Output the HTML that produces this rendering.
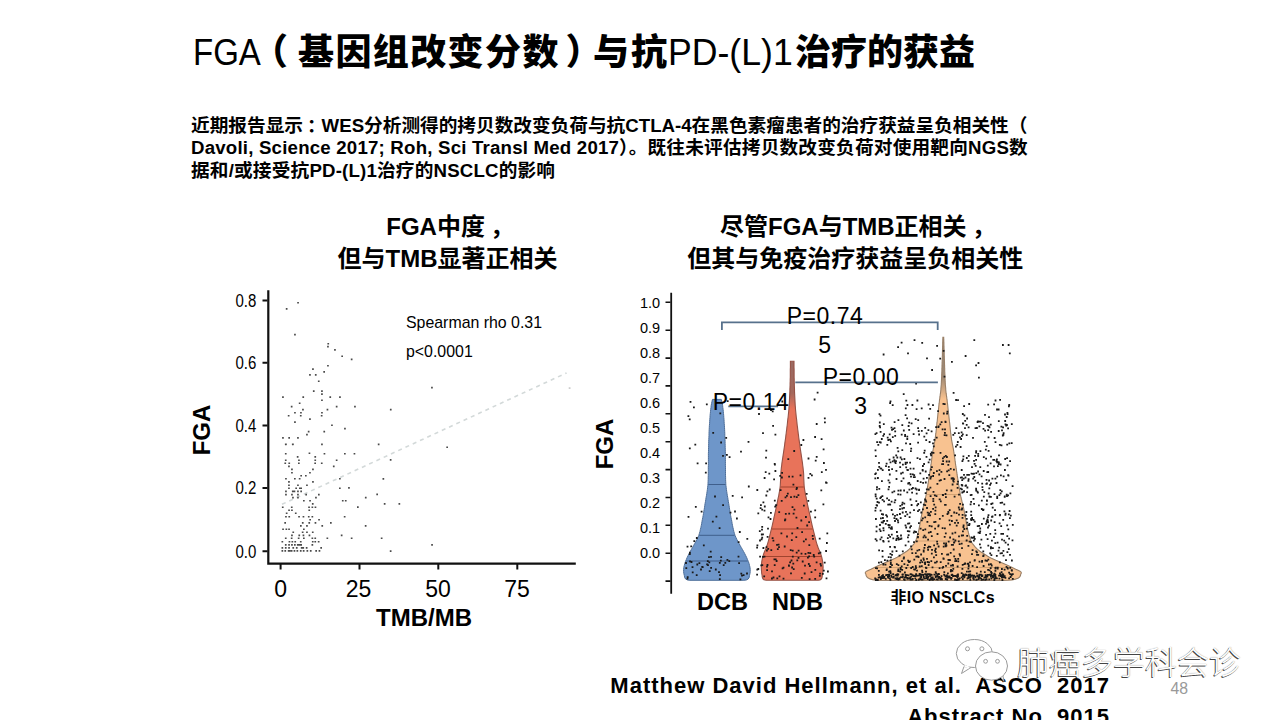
<!DOCTYPE html>
<html><head><meta charset="utf-8">
<style>
html,body{margin:0;padding:0;background:#fff;}
body{width:1280px;height:720px;position:relative;overflow:hidden;font-family:"Liberation Sans","Noto Sans CJK SC",sans-serif;color:#000;}
.a{position:absolute;white-space:nowrap;}
.t{top:29px;font-size:36px;line-height:48px;}
.lt{font-weight:300;}
.bd{font-weight:900;}
.p{left:191px;font-size:18.67px;line-height:22.5px;font-weight:bold;}
.h{font-size:24px;line-height:32px;font-weight:bold;text-align:center;}
.tick{font-size:15px;line-height:15px;}
.ts{transform:scaleY(1.2);transform-origin:50% 50%;}
.xt{font-size:23px;line-height:23px;width:60px;text-align:center;}
.axt{font-size:24px;font-weight:bold;line-height:24px;}
.pv{font-size:23px;line-height:29px;letter-spacing:0.5px;text-align:center;}
.wm{font-weight:300;font-size:32px;line-height:40px;color:#fff;text-shadow:-1px 1px 0 #444,0 0 1px #777;}
</style></head><body>
<svg width="1280" height="720" viewBox="0 0 1280 720" style="position:absolute;left:0;top:0">
<!-- scatter plot -->
<path d="M282 504.3L566.6 372.9" stroke="#d3d9d9" stroke-width="1.6" stroke-dasharray="4 4" fill="none"/>
<path d="M297.2 301.9h1.7v1.7h-1.7zM285.8 308.1h1.7v1.7h-1.7zM294.1 333.8h1.7v1.7h-1.7zM327.4 342.9h1.7v1.7h-1.7zM327.1 345.8h1.7v1.7h-1.7zM334.1 349.1h1.7v1.7h-1.7zM341.3 355.4h1.7v1.7h-1.7zM350.8 358.6h1.7v1.7h-1.7zM327.1 364.9h1.7v1.7h-1.7zM312.1 368.3h1.7v1.7h-1.7zM323.3 371.1h1.7v1.7h-1.7zM309.1 374.1h1.7v1.7h-1.7zM314.9 374.1h1.7v1.7h-1.7zM317.9 380.4h1.7v1.7h-1.7zM312.9 390.3h1.7v1.7h-1.7zM321.1 390.3h1.7v1.7h-1.7zM321.1 393.3h1.7v1.7h-1.7zM282.1 396.3h1.7v1.7h-1.7zM302.4 396.3h1.7v1.7h-1.7zM329.4 396.3h1.7v1.7h-1.7zM339.1 396.3h1.7v1.7h-1.7zM321.1 399.4h1.7v1.7h-1.7zM298.8 402.4h1.7v1.7h-1.7zM290.8 405.8h1.7v1.7h-1.7zM335.8 405.8h1.7v1.7h-1.7zM354.1 405.8h1.7v1.7h-1.7zM302.1 408.8h1.7v1.7h-1.7zM326.6 408.8h1.7v1.7h-1.7zM389.9 408.8h1.7v1.7h-1.7zM294.1 411.9h1.7v1.7h-1.7zM300.1 411.9h1.7v1.7h-1.7zM321.1 411.9h1.7v1.7h-1.7zM287.8 414.9h1.7v1.7h-1.7zM299.9 414.9h1.7v1.7h-1.7zM320.8 414.9h1.7v1.7h-1.7zM309.1 418.3h1.7v1.7h-1.7zM294.1 421.3h1.7v1.7h-1.7zM331.1 424.4h1.7v1.7h-1.7zM344.1 427.8h1.7v1.7h-1.7zM307.8 430.8h1.7v1.7h-1.7zM306.1 433.8h1.7v1.7h-1.7zM323.4 430.8h1.7v1.7h-1.7zM282.1 437.1h1.7v1.7h-1.7zM288.3 437.1h1.7v1.7h-1.7zM297.1 437.1h1.7v1.7h-1.7zM284.9 443.6h1.7v1.7h-1.7zM291.9 443.6h1.7v1.7h-1.7zM321.1 443.6h1.7v1.7h-1.7zM377.8 443.6h1.7v1.7h-1.7zM285.1 443.4h1.7v1.7h-1.7zM292.1 443.4h1.7v1.7h-1.7zM284.9 452.9h1.7v1.7h-1.7zM308.6 452.4h1.7v1.7h-1.7zM323.6 452.9h1.7v1.7h-1.7zM344 452.9h1.7v1.7h-1.7zM353.6 452.9h1.7v1.7h-1.7zM296.8 456h1.7v1.7h-1.7zM314.4 456h1.7v1.7h-1.7zM284.9 459.4h1.7v1.7h-1.7zM298.1 459.4h1.7v1.7h-1.7zM314.4 459.4h1.7v1.7h-1.7zM335.8 459.4h1.7v1.7h-1.7zM284.4 462.4h1.7v1.7h-1.7zM288.4 462.4h1.7v1.7h-1.7zM298 462.4h1.7v1.7h-1.7zM314.3 462.4h1.7v1.7h-1.7zM320.9 462.4h1.7v1.7h-1.7zM288.1 465.5h1.7v1.7h-1.7zM332.9 465.5h1.7v1.7h-1.7zM291.1 468.5h1.7v1.7h-1.7zM312.1 468.5h1.7v1.7h-1.7zM291.1 471.9h1.7v1.7h-1.7zM309.1 471.9h1.7v1.7h-1.7zM300.3 474.9h1.7v1.7h-1.7zM305 474.9h1.7v1.7h-1.7zM285.1 477.9h1.7v1.7h-1.7zM294 477.9h1.7v1.7h-1.7zM298.8 477.9h1.7v1.7h-1.7zM339 477.9h1.7v1.7h-1.7zM288.1 481h1.7v1.7h-1.7zM312.1 481h1.7v1.7h-1.7zM288.1 484.4h1.7v1.7h-1.7zM297.1 484.4h1.7v1.7h-1.7zM306.1 484.4h1.7v1.7h-1.7zM288.1 487.4h1.7v1.7h-1.7zM295.3 487.4h1.7v1.7h-1.7zM299 487.4h1.7v1.7h-1.7zM300.3 487.4h1.7v1.7h-1.7zM339 487.4h1.7v1.7h-1.7zM348.1 487h1.7v1.7h-1.7zM285.1 490.6h1.7v1.7h-1.7zM291.9 490.6h1.7v1.7h-1.7zM293.6 490.6h1.7v1.7h-1.7zM297.1 490.6h1.7v1.7h-1.7zM300.3 490.6h1.7v1.7h-1.7zM285.1 493.8h1.7v1.7h-1.7zM291.1 493.8h1.7v1.7h-1.7zM297.1 493.8h1.7v1.7h-1.7zM305.3 493.8h1.7v1.7h-1.7zM318 493.8h1.7v1.7h-1.7zM292.1 496.8h1.7v1.7h-1.7zM297.1 496.8h1.7v1.7h-1.7zM315.1 496.8h1.7v1.7h-1.7zM364.9 496.8h1.7v1.7h-1.7zM303 499.9h1.7v1.7h-1.7zM309.2 499.9h1.7v1.7h-1.7zM341.9 499.9h1.7v1.7h-1.7zM344.9 499.9h1.7v1.7h-1.7zM311.9 503.1h1.7v1.7h-1.7zM281.9 506.4h1.7v1.7h-1.7zM290.9 506.4h1.7v1.7h-1.7zM308.2 506.4h1.7v1.7h-1.7zM311.5 506.4h1.7v1.7h-1.7zM314.6 506.4h1.7v1.7h-1.7zM288.2 509.4h1.7v1.7h-1.7zM291.1 509.4h1.7v1.7h-1.7zM308.4 509.4h1.7v1.7h-1.7zM285.8 512.4h1.7v1.7h-1.7zM294.9 512.4h1.7v1.7h-1.7zM285.1 515.9h1.7v1.7h-1.7zM288.4 515.9h1.7v1.7h-1.7zM298.2 515.9h1.7v1.7h-1.7zM302.6 515.9h1.7v1.7h-1.7zM307.9 515.9h1.7v1.7h-1.7zM311.5 515.9h1.7v1.7h-1.7zM343.8 515.9h1.7v1.7h-1.7zM309.3 518.9h1.7v1.7h-1.7zM318.2 518.9h1.7v1.7h-1.7zM284.3 522h1.7v1.7h-1.7zM301.9 522h1.7v1.7h-1.7zM308.4 522h1.7v1.7h-1.7zM314.6 522h1.7v1.7h-1.7zM330 522h1.7v1.7h-1.7zM300 525.1h1.7v1.7h-1.7zM306.1 525.1h1.7v1.7h-1.7zM321.4 525.1h1.7v1.7h-1.7zM282.2 528.4h1.7v1.7h-1.7zM285.5 528.4h1.7v1.7h-1.7zM288.2 528.4h1.7v1.7h-1.7zM303 528.4h1.7v1.7h-1.7zM292.4 531.4h1.7v1.7h-1.7zM301.8 531.4h1.7v1.7h-1.7zM306.1 531.4h1.7v1.7h-1.7zM311.9 531.4h1.7v1.7h-1.7zM291.1 534.5h1.7v1.7h-1.7zM298.4 534.5h1.7v1.7h-1.7zM302.6 534.5h1.7v1.7h-1.7zM308.6 534.5h1.7v1.7h-1.7zM340.8 534.5h1.7v1.7h-1.7zM284.9 537.4h1.7v1.7h-1.7zM290.8 537.4h1.7v1.7h-1.7zM297.8 537.4h1.7v1.7h-1.7zM303 537.4h1.7v1.7h-1.7zM311.5 537.4h1.7v1.7h-1.7zM314.4 537.4h1.7v1.7h-1.7zM326.5 537.4h1.7v1.7h-1.7zM350.8 537.4h1.7v1.7h-1.7zM281.5 540.9h1.7v1.7h-1.7zM288.6 540.9h1.7v1.7h-1.7zM291.5 540.9h1.7v1.7h-1.7zM294.4 540.9h1.7v1.7h-1.7zM299.9 540.9h1.7v1.7h-1.7zM311.9 540.9h1.7v1.7h-1.7zM314.4 540.9h1.7v1.7h-1.7zM317.8 540.9h1.7v1.7h-1.7zM284.9 544.1h1.7v1.7h-1.7zM288.2 544.1h1.7v1.7h-1.7zM291.1 544.1h1.7v1.7h-1.7zM294 544.1h1.7v1.7h-1.7zM296.9 544.1h1.7v1.7h-1.7zM298.6 544.1h1.7v1.7h-1.7zM300.3 544.1h1.7v1.7h-1.7zM311.5 544.1h1.7v1.7h-1.7zM281.5 547h1.7v1.7h-1.7zM284.9 547h1.7v1.7h-1.7zM288.2 547h1.7v1.7h-1.7zM292.4 547h1.7v1.7h-1.7zM295.9 547h1.7v1.7h-1.7zM300.8 547h1.7v1.7h-1.7zM302.4 547h1.7v1.7h-1.7zM305.8 547h1.7v1.7h-1.7zM320.3 547h1.7v1.7h-1.7zM281.5 550.1h1.7v1.7h-1.7zM284.4 550.1h1.7v1.7h-1.7zM287.8 550.1h1.7v1.7h-1.7zM289 550.1h1.7v1.7h-1.7zM290.8 550.1h1.7v1.7h-1.7zM293.6 550.1h1.7v1.7h-1.7zM296.5 550.1h1.7v1.7h-1.7zM299.9 550.1h1.7v1.7h-1.7zM302.8 550.1h1.7v1.7h-1.7zM306.5 550.1h1.7v1.7h-1.7zM309.9 550.1h1.7v1.7h-1.7zM315.3 550.1h1.7v1.7h-1.7zM318.6 550.1h1.7v1.7h-1.7zM446.3 446.4h1.7v1.7h-1.7zM389.8 459.1h1.7v1.7h-1.7zM382.5 478h1.7v1.7h-1.7zM376.3 493.5h1.7v1.7h-1.7zM383.8 503.1h1.7v1.7h-1.7zM398.5 503.1h1.7v1.7h-1.7zM357 506.2h1.7v1.7h-1.7zM364.8 525.1h1.7v1.7h-1.7zM380.8 537.4h1.7v1.7h-1.7zM431.2 544h1.7v1.7h-1.7zM389.8 550.2h1.7v1.7h-1.7zM431.1 386.8h1.7v1.7h-1.7z" fill="#4a4a4a"/>
<rect x="568.7" y="387.2" width="1.8" height="1.8" fill="#ccc"/>
<path d="M268.3 290.3V563.6H575.8" stroke="#111" stroke-width="2.2" fill="none"/>
<path d="M262.5 300.4h5M262.5 362.7h5M262.5 425.4h5M262.5 488.1h5M262.5 551.3h5M280.6 564v5.5M359.5 564v5.5M438.3 564v5.5M517.3 564v5.5" stroke="#111" stroke-width="2" fill="none"/>
<defs>
<linearGradient id="gn" gradientUnits="userSpaceOnUse" x1="0" y1="361" x2="0" y2="425"><stop offset="0" stop-color="#9a6a62"/><stop offset="0.5" stop-color="#a4685c"/><stop offset="0.75" stop-color="#e8735a"/><stop offset="1" stop-color="#e8735a"/></linearGradient>
<linearGradient id="go" gradientUnits="userSpaceOnUse" x1="0" y1="337" x2="0" y2="410"><stop offset="0" stop-color="#8c8278"/><stop offset="0.55" stop-color="#a08a74"/><stop offset="0.85" stop-color="#f8c290"/><stop offset="1" stop-color="#f8c290"/></linearGradient>
</defs>
<!-- violin plot -->
<path d="M671.2 292.8V593.8" stroke="#111" stroke-width="1.8" fill="none"/>
<path d="M665.5 302.3h5M665.5 330.2h5M665.5 358.1h5M665.5 385.9h5M665.5 413.8h5M665.5 441.7h5M665.5 469.6h5M665.5 497.5h5M665.5 525.3h5M665.5 553.2h5M665.5 581.1h5" stroke="#111" stroke-width="1.6" fill="none"/>
<path d="M712.5 399.4L721.3 399.4L721.8 401.4L722.2 403.4L722.6 405.4L722.8 407.4L723.1 409.4L723.3 411.4L723.5 413.4L723.7 415.4L723.8 417.4L724 419.4L724.1 421.4L724.2 423.4L724.4 425.4L724.5 427.4L724.6 429.4L724.7 431.4L724.8 433.4L724.8 435.4L724.9 437.4L725 439.4L725.1 441.4L725.1 443.4L725.2 445.4L725.2 447.4L725.3 449.4L725.3 451.4L725.4 453.4L725.4 455.4L725.4 457.4L725.4 459.4L725.4 461.4L725.4 463.4L725.4 465.4L725.5 467.4L725.5 469.4L725.5 471.4L725.5 473.4L725.5 475.4L725.6 477.4L725.6 479.4L725.7 481.4L725.8 483.4L725.9 485.4L726.2 487.4L726.4 489.4L726.7 491.4L727 493.4L727.3 495.4L727.7 497.4L728 499.4L728.3 501.4L728.7 503.4L729 505.4L729.3 507.4L729.6 509.4L730 511.4L730.3 513.4L730.6 515.4L731 517.4L731.4 519.4L731.8 521.4L732.1 523.4L732.5 525.4L732.9 527.4L733.4 529.4L733.8 531.4L734.4 533.4L735 535.4L735.9 537.4L736.8 539.4L737.9 541.4L739 543.4L740.1 545.4L741.2 547.4L742.4 549.4L743.5 551.4L744.6 553.4L745.6 555.4L746.6 557.4L747.4 559.4L748.3 561.4L749 563.4L749.5 565.4L750 567.4L750.2 569.4L750.2 571.4L750 573.4L749.5 575.4Q749.5 580.3 743.9 580.3L689.9 580.3Q684.3 580.3 684.3 575.4L683.8 573.4L683.6 571.4L683.6 569.4L683.8 567.4L684.3 565.4L684.8 563.4L685.5 561.4L686.4 559.4L687.2 557.4L688.2 555.4L689.2 553.4L690.3 551.4L691.4 549.4L692.6 547.4L693.7 545.4L694.8 543.4L695.9 541.4L697 539.4L697.9 537.4L698.8 535.4L699.4 533.4L700 531.4L700.4 529.4L700.9 527.4L701.3 525.4L701.7 523.4L702 521.4L702.4 519.4L702.8 517.4L703.2 515.4L703.5 513.4L703.8 511.4L704.2 509.4L704.5 507.4L704.8 505.4L705.1 503.4L705.5 501.4L705.8 499.4L706.1 497.4L706.5 495.4L706.8 493.4L707.1 491.4L707.4 489.4L707.6 487.4L707.9 485.4L708 483.4L708.1 481.4L708.2 479.4L708.2 477.4L708.3 475.4L708.3 473.4L708.3 471.4L708.3 469.4L708.3 467.4L708.4 465.4L708.4 463.4L708.4 461.4L708.4 459.4L708.4 457.4L708.4 455.4L708.4 453.4L708.5 451.4L708.5 449.4L708.6 447.4L708.6 445.4L708.7 443.4L708.7 441.4L708.8 439.4L708.9 437.4L709 435.4L709 433.4L709.1 431.4L709.2 429.4L709.3 427.4L709.4 425.4L709.6 423.4L709.7 421.4L709.8 419.4L710 417.4L710.1 415.4L710.3 413.4L710.5 411.4L710.7 409.4L711 407.4L711.2 405.4L711.6 403.4L712 401.4L712.5 399.4Z" fill="#6e96c9" stroke="#4d6e99" stroke-width="1"/>
<path d="M708.4 484.5H725.4M699.2 535.3H734.5M686.2 561H747.6" stroke="#3f5f8c" stroke-width="1" fill="none"/>
<path d="M790.4 361.3L794 361.3L794 363.3L794 365.3L794 367.3L794.1 369.3L794.1 371.3L794.1 373.3L794.1 375.3L794.1 377.3L794.2 379.3L794.2 381.3L794.3 383.3L794.3 385.3L794.4 387.3L794.5 389.3L794.5 391.3L794.6 393.3L794.7 395.3L794.8 397.3L794.9 399.3L795 401.3L795.1 403.3L795.2 405.3L795.4 407.3L795.5 409.3L795.7 411.3L795.9 413.3L796.1 415.3L796.3 417.3L796.6 419.3L796.8 421.3L797 423.3L797.2 425.3L797.5 427.3L797.7 429.3L798 431.3L798.2 433.3L798.5 435.3L798.7 437.3L799 439.3L799.3 441.3L799.6 443.3L799.8 445.3L800.1 447.3L800.4 449.3L800.7 451.3L801 453.3L801.3 455.3L801.6 457.3L801.9 459.3L802.2 461.3L802.5 463.3L802.7 465.3L803 467.3L803.2 469.3L803.4 471.3L803.6 473.3L803.7 475.3L803.7 477.3L803.8 479.3L803.9 481.3L804 483.3L804.1 485.3L804.3 487.3L804.6 489.3L804.9 491.3L805.3 493.3L805.6 495.3L806.1 497.3L806.5 499.3L806.9 501.3L807.3 503.3L807.7 505.3L808.1 507.3L808.6 509.3L809 511.3L809.5 513.3L809.9 515.3L810.4 517.3L810.8 519.3L811.2 521.3L811.7 523.3L812.1 525.3L812.6 527.3L813.1 529.3L813.6 531.3L814.1 533.3L814.6 535.3L815.1 537.3L815.6 539.3L816.1 541.3L816.7 543.3L817.3 545.3L818 547.3L818.8 549.3L819.7 551.3L820.5 553.3L821.2 555.3L821.8 557.3L822.2 559.3L822.6 561.3L822.8 563.3L823 565.3L823.1 567.3L823 569.3L822.9 571.3L822.7 573.3L822.3 575.3Q822.3 580.3 818.2 580.3L766.2 580.3Q762.1 580.3 762.1 575.3L761.7 573.3L761.5 571.3L761.4 569.3L761.3 567.3L761.4 565.3L761.6 563.3L761.8 561.3L762.2 559.3L762.6 557.3L763.2 555.3L763.9 553.3L764.7 551.3L765.6 549.3L766.4 547.3L767.1 545.3L767.7 543.3L768.3 541.3L768.8 539.3L769.3 537.3L769.8 535.3L770.3 533.3L770.8 531.3L771.3 529.3L771.8 527.3L772.3 525.3L772.7 523.3L773.2 521.3L773.6 519.3L774 517.3L774.5 515.3L774.9 513.3L775.4 511.3L775.8 509.3L776.3 507.3L776.7 505.3L777.1 503.3L777.5 501.3L777.9 499.3L778.3 497.3L778.8 495.3L779.1 493.3L779.5 491.3L779.8 489.3L780.1 487.3L780.3 485.3L780.4 483.3L780.5 481.3L780.6 479.3L780.7 477.3L780.7 475.3L780.8 473.3L781 471.3L781.2 469.3L781.4 467.3L781.7 465.3L781.9 463.3L782.2 461.3L782.5 459.3L782.8 457.3L783.1 455.3L783.4 453.3L783.7 451.3L784 449.3L784.3 447.3L784.6 445.3L784.8 443.3L785.1 441.3L785.4 439.3L785.7 437.3L785.9 435.3L786.2 433.3L786.4 431.3L786.7 429.3L786.9 427.3L787.2 425.3L787.4 423.3L787.6 421.3L787.8 419.3L788.1 417.3L788.3 415.3L788.5 413.3L788.7 411.3L788.9 409.3L789 407.3L789.2 405.3L789.3 403.3L789.4 401.3L789.5 399.3L789.6 397.3L789.7 395.3L789.8 393.3L789.9 391.3L789.9 389.3L790 387.3L790.1 385.3L790.1 383.3L790.2 381.3L790.2 379.3L790.3 377.3L790.3 375.3L790.3 373.3L790.3 371.3L790.3 369.3L790.4 367.3L790.4 365.3L790.4 363.3L790.4 361.3Z" fill="url(#gn)" stroke="#955246" stroke-width="1.1"/>
<path d="M780.6 487H803.8M771.9 529H812.5M763.4 556.5H821" stroke="#a0442f" stroke-width="1" fill="none"/>
<path d="M942.9 337.2L943.7 337.2L943.7 338.2L943.8 339.2L943.8 340.2L943.8 341.2L943.9 342.2L943.9 343.2L943.9 344.2L943.9 345.2L944 346.2L944 347.2L944 348.2L944.1 349.2L944.1 350.2L944.1 351.2L944.2 352.2L944.2 353.2L944.2 354.2L944.2 355.2L944.3 356.2L944.3 357.2L944.3 358.2L944.4 359.2L944.4 360.2L944.4 361.2L944.5 362.2L944.5 363.2L944.5 364.2L944.6 365.2L944.6 366.2L944.6 367.2L944.7 368.2L944.7 369.2L944.7 370.2L944.7 371.2L944.8 372.2L944.8 373.2L944.9 374.2L944.9 375.2L944.9 376.2L945 377.2L945 378.2L945.1 379.2L945.1 380.2L945.2 381.2L945.2 382.2L945.3 383.2L945.3 384.2L945.4 385.2L945.5 386.2L945.6 387.2L945.7 388.2L945.7 389.2L945.8 390.2L945.9 391.2L946 392.2L946.1 393.2L946.3 394.2L946.4 395.2L946.5 396.2L946.7 397.2L946.8 398.2L946.9 399.2L947.1 400.2L947.2 401.2L947.3 402.2L947.4 403.2L947.6 404.2L947.7 405.2L947.8 406.2L947.9 407.2L948 408.2L948.1 409.2L948.2 410.2L948.3 411.2L948.4 412.2L948.5 413.2L948.7 414.2L948.8 415.2L948.9 416.2L949 417.2L949.1 418.2L949.2 419.2L949.3 420.2L949.4 421.2L949.5 422.2L949.7 423.2L949.8 424.2L949.9 425.2L950 426.2L950.1 427.2L950.2 428.2L950.3 429.2L950.4 430.2L950.5 431.2L950.6 432.2L950.7 433.2L950.9 434.2L951 435.2L951.1 436.2L951.2 437.2L951.4 438.2L951.5 439.2L951.6 440.2L951.8 441.2L952 442.2L952.2 443.2L952.4 444.2L952.6 445.2L952.8 446.2L953 447.2L953.2 448.2L953.4 449.2L953.5 450.2L953.7 451.2L953.8 452.2L954 453.2L954.1 454.2L954.3 455.2L954.4 456.2L954.6 457.2L954.7 458.2L954.9 459.2L955 460.2L955.1 461.2L955.3 462.2L955.4 463.2L955.5 464.2L955.7 465.2L955.8 466.2L956 467.2L956.1 468.2L956.3 469.2L956.4 470.2L956.6 471.2L956.7 472.2L956.9 473.2L957 474.2L957.2 475.2L957.3 476.2L957.5 477.2L957.7 478.2L957.8 479.2L958 480.2L958.1 481.2L958.3 482.2L958.4 483.2L958.6 484.2L958.8 485.2L958.9 486.2L959.1 487.2L959.3 488.2L959.4 489.2L959.6 490.2L959.8 491.2L960 492.2L960.1 493.2L960.3 494.2L960.5 495.2L960.7 496.2L961 497.2L961.2 498.2L961.4 499.2L961.7 500.2L961.9 501.2L962.2 502.2L962.4 503.2L962.7 504.2L962.9 505.2L963.1 506.2L963.4 507.2L963.6 508.2L963.8 509.2L964 510.2L964.2 511.2L964.4 512.2L964.6 513.2L964.8 514.2L965 515.2L965.2 516.2L965.4 517.2L965.5 518.2L965.7 519.2L965.9 520.2L966.1 521.2L966.2 522.2L966.4 523.2L966.6 524.2L966.8 525.2L967 526.2L967.2 527.2L967.4 528.2L967.6 529.2L967.8 530.2L968.1 531.2L968.3 532.2L968.6 533.2L968.8 534.2L969.1 535.2L969.4 536.2L969.7 537.2L970 538.2L970.3 539.2L970.7 540.2L971.1 541.2L971.6 542.2L972.2 543.2L972.9 544.2L973.7 545.2L974.5 546.2L975.3 547.2L976.3 548.2L977.3 549.2L978.6 550.2L979.9 551.2L981.4 552.2L983 553.2L984.6 554.2L986.2 555.2L987.7 556.2L989.4 557.2L991.4 558.2L993.6 559.2L995.8 560.2L998.2 561.2L1000.5 562.2L1002.9 563.2L1005.2 564.2L1007.4 565.2L1009.6 566.2L1011.7 567.2L1013.7 568.2L1015.7 569.2L1018 570.2L1020 571.2L1021.2 572.2L1021.3 573.2L1020.7 574.2Q1020.7 580.5 1003.3 580.5L883.3 580.5Q865.9 580.5 865.9 574.2L865.3 573.2L865.4 572.2L866.6 571.2L868.6 570.2L870.9 569.2L872.9 568.2L874.9 567.2L877 566.2L879.2 565.2L881.4 564.2L883.7 563.2L886.1 562.2L888.4 561.2L890.8 560.2L893 559.2L895.2 558.2L897.2 557.2L898.9 556.2L900.4 555.2L902 554.2L903.6 553.2L905.2 552.2L906.7 551.2L908 550.2L909.3 549.2L910.3 548.2L911.3 547.2L912.1 546.2L912.9 545.2L913.7 544.2L914.4 543.2L915 542.2L915.5 541.2L915.9 540.2L916.3 539.2L916.6 538.2L916.9 537.2L917.2 536.2L917.5 535.2L917.8 534.2L918 533.2L918.3 532.2L918.5 531.2L918.8 530.2L919 529.2L919.2 528.2L919.4 527.2L919.6 526.2L919.8 525.2L920 524.2L920.2 523.2L920.4 522.2L920.5 521.2L920.7 520.2L920.9 519.2L921.1 518.2L921.2 517.2L921.4 516.2L921.6 515.2L921.8 514.2L922 513.2L922.2 512.2L922.4 511.2L922.6 510.2L922.8 509.2L923 508.2L923.2 507.2L923.5 506.2L923.7 505.2L923.9 504.2L924.2 503.2L924.4 502.2L924.7 501.2L924.9 500.2L925.2 499.2L925.4 498.2L925.6 497.2L925.9 496.2L926.1 495.2L926.3 494.2L926.5 493.2L926.6 492.2L926.8 491.2L927 490.2L927.2 489.2L927.3 488.2L927.5 487.2L927.7 486.2L927.8 485.2L928 484.2L928.2 483.2L928.3 482.2L928.5 481.2L928.6 480.2L928.8 479.2L928.9 478.2L929.1 477.2L929.3 476.2L929.4 475.2L929.6 474.2L929.7 473.2L929.9 472.2L930 471.2L930.2 470.2L930.3 469.2L930.5 468.2L930.6 467.2L930.8 466.2L930.9 465.2L931.1 464.2L931.2 463.2L931.3 462.2L931.5 461.2L931.6 460.2L931.7 459.2L931.9 458.2L932 457.2L932.2 456.2L932.3 455.2L932.5 454.2L932.6 453.2L932.8 452.2L932.9 451.2L933.1 450.2L933.2 449.2L933.4 448.2L933.6 447.2L933.8 446.2L934 445.2L934.2 444.2L934.4 443.2L934.6 442.2L934.8 441.2L935 440.2L935.1 439.2L935.2 438.2L935.4 437.2L935.5 436.2L935.6 435.2L935.7 434.2L935.9 433.2L936 432.2L936.1 431.2L936.2 430.2L936.3 429.2L936.4 428.2L936.5 427.2L936.6 426.2L936.7 425.2L936.8 424.2L936.9 423.2L937.1 422.2L937.2 421.2L937.3 420.2L937.4 419.2L937.5 418.2L937.6 417.2L937.7 416.2L937.8 415.2L937.9 414.2L938.1 413.2L938.2 412.2L938.3 411.2L938.4 410.2L938.5 409.2L938.6 408.2L938.7 407.2L938.8 406.2L938.9 405.2L939 404.2L939.2 403.2L939.3 402.2L939.4 401.2L939.5 400.2L939.7 399.2L939.8 398.2L939.9 397.2L940.1 396.2L940.2 395.2L940.3 394.2L940.5 393.2L940.6 392.2L940.7 391.2L940.8 390.2L940.9 389.2L940.9 388.2L941 387.2L941.1 386.2L941.2 385.2L941.3 384.2L941.3 383.2L941.4 382.2L941.4 381.2L941.5 380.2L941.5 379.2L941.6 378.2L941.6 377.2L941.7 376.2L941.7 375.2L941.7 374.2L941.8 373.2L941.8 372.2L941.9 371.2L941.9 370.2L941.9 369.2L941.9 368.2L942 367.2L942 366.2L942 365.2L942.1 364.2L942.1 363.2L942.1 362.2L942.2 361.2L942.2 360.2L942.2 359.2L942.3 358.2L942.3 357.2L942.3 356.2L942.4 355.2L942.4 354.2L942.4 353.2L942.4 352.2L942.5 351.2L942.5 350.2L942.5 349.2L942.6 348.2L942.6 347.2L942.6 346.2L942.7 345.2L942.7 344.2L942.7 343.2L942.7 342.2L942.8 341.2L942.8 340.2L942.8 339.2L942.9 338.2L942.9 337.2Z" fill="url(#go)" stroke="#9a8068" stroke-width="1.1"/>
<path d="M926.7 494.5H959.9M916.1 541H970.5M874.9 567.5H1011.7" stroke="#c99a6c" stroke-width="0.8" fill="none"/>
<path d="M705.9 403.5h1.8v1.8h-1.8zM726.8 400.2h1.8v1.8h-1.8zM719.4 412.5h1.8v1.8h-1.8zM688.8 418.4h1.8v1.8h-1.8zM687.5 415.3h1.8v1.8h-1.8zM689.6 400.9h1.8v1.8h-1.8zM712.3 431.9h1.8v1.8h-1.8zM693 406.5h1.8v1.8h-1.8zM725.3 436.9h1.8v1.8h-1.8zM722.1 455h1.8v1.8h-1.8zM747.6 441h1.8v1.8h-1.8zM740.1 450.7h1.8v1.8h-1.8zM694.4 443.8h1.8v1.8h-1.8zM704.9 471.8h1.8v1.8h-1.8zM696.7 462.4h1.8v1.8h-1.8zM726 454h1.8v1.8h-1.8zM720.2 441.6h1.8v1.8h-1.8zM688.9 447.4h1.8v1.8h-1.8zM728.7 456.2h1.8v1.8h-1.8zM705.2 462.5h1.8v1.8h-1.8zM714.1 495.6h1.8v1.8h-1.8zM736 517.6h1.8v1.8h-1.8zM700.7 510.7h1.8v1.8h-1.8zM718.7 527.3h1.8v1.8h-1.8zM731.8 495h1.8v1.8h-1.8zM747.9 485.6h1.8v1.8h-1.8zM711.9 520.8h1.8v1.8h-1.8zM694.9 506h1.8v1.8h-1.8zM687.6 515.9h1.8v1.8h-1.8zM734.1 510.6h1.8v1.8h-1.8zM741.2 496.4h1.8v1.8h-1.8zM729.6 511.8h1.8v1.8h-1.8zM722.2 504.2h1.8v1.8h-1.8zM738.9 531.1h1.8v1.8h-1.8zM715.5 515.7h1.8v1.8h-1.8zM689 551.7h1.8v1.8h-1.8zM726.5 559h1.8v1.8h-1.8zM737.7 541.2h1.8v1.8h-1.8zM709.8 550.8h1.8v1.8h-1.8zM686.6 545.7h1.8v1.8h-1.8zM695.9 537.1h1.8v1.8h-1.8zM688.9 553.3h1.8v1.8h-1.8zM693.4 540.3h1.8v1.8h-1.8zM710.1 555.9h1.8v1.8h-1.8zM690.3 545.4h1.8v1.8h-1.8zM720.3 556.2h1.8v1.8h-1.8zM737.6 555.7h1.8v1.8h-1.8zM702.9 544.5h1.8v1.8h-1.8zM708.1 556.2h1.8v1.8h-1.8zM746.4 537.9h1.8v1.8h-1.8zM696.4 563.6h1.8v1.8h-1.8zM700.1 568.6h1.8v1.8h-1.8zM722.8 564.2h1.8v1.8h-1.8zM685.4 567.3h1.8v1.8h-1.8zM708.8 570.2h1.8v1.8h-1.8zM746.1 572.6h1.8v1.8h-1.8zM718.1 571.2h1.8v1.8h-1.8zM728.4 560.2h1.8v1.8h-1.8zM742.7 574.3h1.8v1.8h-1.8zM741.1 574.7h1.8v1.8h-1.8zM710.2 566.9h1.8v1.8h-1.8zM691.8 571.5h1.8v1.8h-1.8zM689.1 560.4h1.8v1.8h-1.8zM698.5 562.3h1.8v1.8h-1.8zM706.9 560.2h1.8v1.8h-1.8zM685.1 562.1h1.8v1.8h-1.8zM691.6 566.2h1.8v1.8h-1.8zM686.8 576.2h1.8v1.8h-1.8zM724.4 562h1.8v1.8h-1.8zM701.3 565.9h1.8v1.8h-1.8zM708.4 561.5h1.8v1.8h-1.8zM739.5 578.5h1.8v1.8h-1.8zM714.9 568.6h1.8v1.8h-1.8zM690.6 561.1h1.8v1.8h-1.8zM707.1 564.3h1.8v1.8h-1.8zM738.2 562.3h1.8v1.8h-1.8zM686.6 577.7h1.8v1.8h-1.8zM718.9 562h1.8v1.8h-1.8zM719.9 559.7h1.8v1.8h-1.8zM718.9 578.2h1.8v1.8h-1.8zM740.4 572.7h1.8v1.8h-1.8zM701.8 566.3h1.8v1.8h-1.8zM695.8 574.2h1.8v1.8h-1.8zM719.2 574.3h1.8v1.8h-1.8zM706.2 563.5h1.8v1.8h-1.8zM813.7 398.6h1.8v1.8h-1.8zM816.7 391.8h1.8v1.8h-1.8zM814.2 436.1h1.8v1.8h-1.8zM772.2 425h1.8v1.8h-1.8zM781.4 400.6h1.8v1.8h-1.8zM758.1 413.1h1.8v1.8h-1.8zM774.5 433.8h1.8v1.8h-1.8zM824 421.5h1.8v1.8h-1.8zM822.7 448.5h1.8v1.8h-1.8zM823.9 417.4h1.8v1.8h-1.8zM771.8 410.5h1.8v1.8h-1.8zM770.1 409.3h1.8v1.8h-1.8zM800.4 444.1h1.8v1.8h-1.8zM815.8 423.1h1.8v1.8h-1.8zM802.5 439.1h1.8v1.8h-1.8zM762.1 432.2h1.8v1.8h-1.8zM820.7 438.2h1.8v1.8h-1.8zM809.4 473h1.8v1.8h-1.8zM768.8 488.6h1.8v1.8h-1.8zM779.7 489.2h1.8v1.8h-1.8zM825.1 468.9h1.8v1.8h-1.8zM784.6 496.5h1.8v1.8h-1.8zM807.6 457.6h1.8v1.8h-1.8zM765.1 456.7h1.8v1.8h-1.8zM820.4 489.5h1.8v1.8h-1.8zM766.5 490.5h1.8v1.8h-1.8zM825.7 482h1.8v1.8h-1.8zM781 476.6h1.8v1.8h-1.8zM765.4 449.8h1.8v1.8h-1.8zM825.1 481.6h1.8v1.8h-1.8zM793.5 495.8h1.8v1.8h-1.8zM786.9 492.7h1.8v1.8h-1.8zM814.8 459.7h1.8v1.8h-1.8zM774 463.8h1.8v1.8h-1.8zM773.2 478.4h1.8v1.8h-1.8zM774.5 470.1h1.8v1.8h-1.8zM765.4 494.6h1.8v1.8h-1.8zM781.2 472h1.8v1.8h-1.8zM797.5 494.3h1.8v1.8h-1.8zM786 495h1.8v1.8h-1.8zM791.7 475.7h1.8v1.8h-1.8zM793.3 450.1h1.8v1.8h-1.8zM787.4 458.3h1.8v1.8h-1.8zM756.4 489.1h1.8v1.8h-1.8zM768.4 472.8h1.8v1.8h-1.8zM807.6 476.9h1.8v1.8h-1.8zM779.3 475h1.8v1.8h-1.8zM795.6 488.3h1.8v1.8h-1.8zM763.7 477.1h1.8v1.8h-1.8zM773.8 463h1.8v1.8h-1.8zM811 474.5h1.8v1.8h-1.8zM796 487.1h1.8v1.8h-1.8zM820.9 471.3h1.8v1.8h-1.8zM799.6 474.4h1.8v1.8h-1.8zM792.5 483.8h1.8v1.8h-1.8zM788.2 475.8h1.8v1.8h-1.8zM790.1 496.2h1.8v1.8h-1.8zM805.8 493h1.8v1.8h-1.8zM823 462.1h1.8v1.8h-1.8zM795.9 496.3h1.8v1.8h-1.8zM815.8 456h1.8v1.8h-1.8zM764.8 471.2h1.8v1.8h-1.8zM761.3 508.8h1.8v1.8h-1.8zM761.3 525.9h1.8v1.8h-1.8zM811.8 535h1.8v1.8h-1.8zM767.1 527.8h1.8v1.8h-1.8zM803 504.8h1.8v1.8h-1.8zM818.8 537.8h1.8v1.8h-1.8zM771.7 537.2h1.8v1.8h-1.8zM784.4 518.6h1.8v1.8h-1.8zM826.4 532.4h1.8v1.8h-1.8zM767.6 516.4h1.8v1.8h-1.8zM792.7 512.7h1.8v1.8h-1.8zM770 511.9h1.8v1.8h-1.8zM807.4 499.9h1.8v1.8h-1.8zM795.5 516.7h1.8v1.8h-1.8zM757.4 512.4h1.8v1.8h-1.8zM800.4 519.6h1.8v1.8h-1.8zM760.7 538.5h1.8v1.8h-1.8zM812.1 538h1.8v1.8h-1.8zM763.6 509.7h1.8v1.8h-1.8zM758.9 530.3h1.8v1.8h-1.8zM775.3 504.3h1.8v1.8h-1.8zM786.1 535.6h1.8v1.8h-1.8zM814.3 509.5h1.8v1.8h-1.8zM766.7 535.9h1.8v1.8h-1.8zM796.6 527.1h1.8v1.8h-1.8zM762.5 501.4h1.8v1.8h-1.8zM805 516.1h1.8v1.8h-1.8zM761.3 536.7h1.8v1.8h-1.8zM801.2 531.2h1.8v1.8h-1.8zM762.1 533.4h1.8v1.8h-1.8zM760.9 533.6h1.8v1.8h-1.8zM788.3 512.7h1.8v1.8h-1.8zM795.4 536.2h1.8v1.8h-1.8zM775.1 504.3h1.8v1.8h-1.8zM793.5 508.7h1.8v1.8h-1.8zM763.9 505.6h1.8v1.8h-1.8zM759.7 507.2h1.8v1.8h-1.8zM778.3 511.3h1.8v1.8h-1.8zM810 510.7h1.8v1.8h-1.8zM791.6 506.2h1.8v1.8h-1.8zM780.8 499.9h1.8v1.8h-1.8zM773.9 499.7h1.8v1.8h-1.8zM808.2 521.2h1.8v1.8h-1.8zM769.6 518.1h1.8v1.8h-1.8zM822.5 503.4h1.8v1.8h-1.8zM814.3 516.4h1.8v1.8h-1.8zM791.3 532.5h1.8v1.8h-1.8zM784 519.4h1.8v1.8h-1.8zM805 538.4h1.8v1.8h-1.8zM780.5 532.4h1.8v1.8h-1.8zM806.3 524.6h1.8v1.8h-1.8zM784.9 513h1.8v1.8h-1.8zM760 504.3h1.8v1.8h-1.8zM761.1 528.8h1.8v1.8h-1.8zM774.3 505.7h1.8v1.8h-1.8zM762.1 556h1.8v1.8h-1.8zM817.9 552.5h1.8v1.8h-1.8zM776.1 544h1.8v1.8h-1.8zM776.9 548.3h1.8v1.8h-1.8zM767.3 548h1.8v1.8h-1.8zM774.8 558.4h1.8v1.8h-1.8zM825.2 550.1h1.8v1.8h-1.8zM773.5 558.4h1.8v1.8h-1.8zM778.1 546.3h1.8v1.8h-1.8zM756.2 546.8h1.8v1.8h-1.8zM789.8 549.2h1.8v1.8h-1.8zM770.4 549.2h1.8v1.8h-1.8zM756.5 544.4h1.8v1.8h-1.8zM762.5 547.1h1.8v1.8h-1.8zM759.1 539.6h1.8v1.8h-1.8zM777.7 543.8h1.8v1.8h-1.8zM797.7 549.7h1.8v1.8h-1.8zM809.4 552.3h1.8v1.8h-1.8zM807 556.7h1.8v1.8h-1.8zM783.8 545.6h1.8v1.8h-1.8zM826 542.1h1.8v1.8h-1.8zM807.5 552h1.8v1.8h-1.8zM759.2 555.8h1.8v1.8h-1.8zM819.5 551.7h1.8v1.8h-1.8zM808.2 555.4h1.8v1.8h-1.8zM766 549.6h1.8v1.8h-1.8zM791.9 555.8h1.8v1.8h-1.8zM813.3 555.7h1.8v1.8h-1.8zM797.6 557h1.8v1.8h-1.8zM804.6 553h1.8v1.8h-1.8zM772.5 539.7h1.8v1.8h-1.8zM765.6 546.3h1.8v1.8h-1.8zM763.6 555.8h1.8v1.8h-1.8zM795.8 551.7h1.8v1.8h-1.8zM800.6 552.7h1.8v1.8h-1.8zM790.9 539.2h1.8v1.8h-1.8zM812.8 554.1h1.8v1.8h-1.8zM791.8 549.8h1.8v1.8h-1.8zM802.9 540.4h1.8v1.8h-1.8zM808.4 544.2h1.8v1.8h-1.8zM761.4 564.3h1.8v1.8h-1.8zM807.9 563.1h1.8v1.8h-1.8zM808.7 578.2h1.8v1.8h-1.8zM791.2 566.6h1.8v1.8h-1.8zM790.1 572.5h1.8v1.8h-1.8zM810.6 571.2h1.8v1.8h-1.8zM801.8 560.6h1.8v1.8h-1.8zM766.6 564.1h1.8v1.8h-1.8zM808.9 565.1h1.8v1.8h-1.8zM796.4 559.4h1.8v1.8h-1.8zM760.4 564.4h1.8v1.8h-1.8zM803.8 572.6h1.8v1.8h-1.8zM804.1 564.8h1.8v1.8h-1.8zM792.8 568.2h1.8v1.8h-1.8zM789.2 561.4h1.8v1.8h-1.8zM819.6 563h1.8v1.8h-1.8zM825.6 577.4h1.8v1.8h-1.8zM757.4 568.1h1.8v1.8h-1.8zM814.3 578h1.8v1.8h-1.8zM788 564.4h1.8v1.8h-1.8zM771 577.6h1.8v1.8h-1.8zM771.1 570.5h1.8v1.8h-1.8zM766.2 569.3h1.8v1.8h-1.8zM823.8 561.7h1.8v1.8h-1.8zM814.4 569h1.8v1.8h-1.8zM819.1 572.8h1.8v1.8h-1.8zM772.6 576.6h1.8v1.8h-1.8zM790.6 559.6h1.8v1.8h-1.8zM756.4 568.7h1.8v1.8h-1.8zM788.1 565h1.8v1.8h-1.8zM766.1 565.8h1.8v1.8h-1.8zM778.6 575.5h1.8v1.8h-1.8zM756.2 573.8h1.8v1.8h-1.8zM815.7 561.5h1.8v1.8h-1.8zM821.9 573h1.8v1.8h-1.8zM820.1 564.8h1.8v1.8h-1.8zM782.6 566.8h1.8v1.8h-1.8zM827 570.6h1.8v1.8h-1.8zM781.7 567.5h1.8v1.8h-1.8zM775.7 560.1h1.8v1.8h-1.8zM763.3 575.4h1.8v1.8h-1.8zM776.4 577.4h1.8v1.8h-1.8zM773.8 564.3h1.8v1.8h-1.8zM792.4 562.8h1.8v1.8h-1.8zM782.6 577.8h1.8v1.8h-1.8zM818.9 575h1.8v1.8h-1.8zM800.9 576.9h1.8v1.8h-1.8zM822.9 569.8h1.8v1.8h-1.8zM973.4 339.2h1.8v1.8h-1.8zM975.2 364.5h1.8v1.8h-1.8zM978 376.7h1.8v1.8h-1.8zM913.6 339.2h1.8v1.8h-1.8zM1002 344.1h1.8v1.8h-1.8zM939.3 357.8h1.8v1.8h-1.8zM915.2 382.7h1.8v1.8h-1.8zM1008.9 352.5h1.8v1.8h-1.8zM964.7 355.1h1.8v1.8h-1.8zM951 361h1.8v1.8h-1.8zM897.2 346.3h1.8v1.8h-1.8zM902.8 393.2h1.8v1.8h-1.8zM942.7 350h1.8v1.8h-1.8zM999.2 398.9h1.8v1.8h-1.8zM936.2 344.9h1.8v1.8h-1.8zM900.7 341.8h1.8v1.8h-1.8zM921.3 341.9h1.8v1.8h-1.8zM907.1 352.4h1.8v1.8h-1.8zM952.7 392h1.8v1.8h-1.8zM977.6 362.1h1.8v1.8h-1.8zM931.2 369.1h1.8v1.8h-1.8zM926.1 357.4h1.8v1.8h-1.8zM882.7 353.6h1.8v1.8h-1.8zM1007.7 344.1h1.8v1.8h-1.8zM943.6 375.8h1.8v1.8h-1.8zM993.2 403.4h1.8v1.8h-1.8zM911.5 404.1h1.8v1.8h-1.8zM929.3 408h1.8v1.8h-1.8zM1005.8 416.1h1.8v1.8h-1.8zM994.6 399.6h1.8v1.8h-1.8zM878.6 413.3h1.8v1.8h-1.8zM997.7 408.6h1.8v1.8h-1.8zM955.2 399.1h1.8v1.8h-1.8zM928.2 417.7h1.8v1.8h-1.8zM988.1 416.2h1.8v1.8h-1.8zM1008.3 404.1h1.8v1.8h-1.8zM889.2 402.2h1.8v1.8h-1.8zM946.2 412.8h1.8v1.8h-1.8zM1004.1 413.6h1.8v1.8h-1.8zM963.5 414.4h1.8v1.8h-1.8zM937.2 410.2h1.8v1.8h-1.8zM879.6 414.8h1.8v1.8h-1.8zM906.2 417.5h1.8v1.8h-1.8zM963.2 405.2h1.8v1.8h-1.8zM891.8 404.2h1.8v1.8h-1.8zM961.9 413.1h1.8v1.8h-1.8zM889.6 400.5h1.8v1.8h-1.8zM946.5 410.8h1.8v1.8h-1.8zM927.7 403.6h1.8v1.8h-1.8zM957.1 399.3h1.8v1.8h-1.8zM915.7 408.3h1.8v1.8h-1.8zM1006.5 412h1.8v1.8h-1.8zM996.1 408.6h1.8v1.8h-1.8zM906.5 404.1h1.8v1.8h-1.8zM1006.7 413.2h1.8v1.8h-1.8zM916.5 399.6h1.8v1.8h-1.8zM942.9 412.6h1.8v1.8h-1.8zM932.1 404.3h1.8v1.8h-1.8zM966.2 417.6h1.8v1.8h-1.8zM905.4 399.8h1.8v1.8h-1.8zM920.8 407.5h1.8v1.8h-1.8zM968.3 403.1h1.8v1.8h-1.8zM984.1 413.9h1.8v1.8h-1.8zM943.8 403.2h1.8v1.8h-1.8zM1008 405.4h1.8v1.8h-1.8zM987.3 403.7h1.8v1.8h-1.8zM904.7 414.3h1.8v1.8h-1.8zM914.8 418.2h1.8v1.8h-1.8zM942.5 402.9h1.8v1.8h-1.8zM904.9 407.5h1.8v1.8h-1.8zM965.9 457.1h1.8v1.8h-1.8zM894.3 434.9h1.8v1.8h-1.8zM903.5 458.1h1.8v1.8h-1.8zM893.7 421.2h1.8v1.8h-1.8zM882.4 434.9h1.8v1.8h-1.8zM998.1 454.5h1.8v1.8h-1.8zM975.2 459h1.8v1.8h-1.8zM1002.7 432.3h1.8v1.8h-1.8zM899.7 456.6h1.8v1.8h-1.8zM977.1 420.4h1.8v1.8h-1.8zM965.8 434.3h1.8v1.8h-1.8zM925.7 432.4h1.8v1.8h-1.8zM897.5 419.2h1.8v1.8h-1.8zM912.7 433.2h1.8v1.8h-1.8zM1006 424.1h1.8v1.8h-1.8zM1007.2 427.4h1.8v1.8h-1.8zM923.3 452h1.8v1.8h-1.8zM987.6 436.4h1.8v1.8h-1.8zM880.9 438.1h1.8v1.8h-1.8zM925.6 455.9h1.8v1.8h-1.8zM900.8 433.7h1.8v1.8h-1.8zM997.9 420.3h1.8v1.8h-1.8zM930.8 451.6h1.8v1.8h-1.8zM979.9 420.8h1.8v1.8h-1.8zM878.9 421.6h1.8v1.8h-1.8zM1001.1 429.4h1.8v1.8h-1.8zM977.3 455.1h1.8v1.8h-1.8zM920.9 430h1.8v1.8h-1.8zM1006.3 443.8h1.8v1.8h-1.8zM910.3 447.8h1.8v1.8h-1.8zM917.8 430.2h1.8v1.8h-1.8zM874.6 449.4h1.8v1.8h-1.8zM1000.6 444.5h1.8v1.8h-1.8zM1004.3 420.1h1.8v1.8h-1.8zM906.4 438.1h1.8v1.8h-1.8zM1006.2 457.3h1.8v1.8h-1.8zM927.5 429.2h1.8v1.8h-1.8zM933.5 438.9h1.8v1.8h-1.8zM1002.2 426.4h1.8v1.8h-1.8zM984.9 448.7h1.8v1.8h-1.8zM987.7 450h1.8v1.8h-1.8zM957.9 432.2h1.8v1.8h-1.8zM918.2 433.6h1.8v1.8h-1.8zM982.1 422.3h1.8v1.8h-1.8zM901.4 449.2h1.8v1.8h-1.8zM908.3 421.7h1.8v1.8h-1.8zM878.8 441.2h1.8v1.8h-1.8zM919.1 458.3h1.8v1.8h-1.8zM996 458.6h1.8v1.8h-1.8zM910.7 422.5h1.8v1.8h-1.8zM887.4 439.1h1.8v1.8h-1.8zM972.1 437h1.8v1.8h-1.8zM906.4 435.8h1.8v1.8h-1.8zM959.7 446.1h1.8v1.8h-1.8zM977.3 453h1.8v1.8h-1.8zM965.8 424h1.8v1.8h-1.8zM990.2 430.9h1.8v1.8h-1.8zM952.4 434h1.8v1.8h-1.8zM976 427.1h1.8v1.8h-1.8zM908.3 428.9h1.8v1.8h-1.8zM895.3 454.5h1.8v1.8h-1.8zM953.9 432.2h1.8v1.8h-1.8zM928.8 458.8h1.8v1.8h-1.8zM944.1 428.4h1.8v1.8h-1.8zM985.7 445.3h1.8v1.8h-1.8zM1010.9 423.2h1.8v1.8h-1.8zM939.6 451.9h1.8v1.8h-1.8zM990.1 455.7h1.8v1.8h-1.8zM879.7 430.9h1.8v1.8h-1.8zM890.6 426.7h1.8v1.8h-1.8zM1008.4 442.5h1.8v1.8h-1.8zM1002.5 434h1.8v1.8h-1.8zM993.7 437.1h1.8v1.8h-1.8zM910 450.2h1.8v1.8h-1.8zM1004.6 423.4h1.8v1.8h-1.8zM956.4 443.9h1.8v1.8h-1.8zM904.2 433.9h1.8v1.8h-1.8zM893.6 427.3h1.8v1.8h-1.8zM909.3 443.1h1.8v1.8h-1.8zM964.1 427.3h1.8v1.8h-1.8zM875.7 432.2h1.8v1.8h-1.8zM967.7 426.5h1.8v1.8h-1.8zM917.2 427.3h1.8v1.8h-1.8zM983.9 441h1.8v1.8h-1.8zM882.9 423.2h1.8v1.8h-1.8zM928.7 441.1h1.8v1.8h-1.8zM962.3 422.8h1.8v1.8h-1.8zM896.7 446.9h1.8v1.8h-1.8zM930.7 430.5h1.8v1.8h-1.8zM916.6 457.3h1.8v1.8h-1.8zM917.2 441.8h1.8v1.8h-1.8zM923.4 435.8h1.8v1.8h-1.8zM993.4 459h1.8v1.8h-1.8zM924.3 427h1.8v1.8h-1.8zM974.6 427.3h1.8v1.8h-1.8zM874.9 455.2h1.8v1.8h-1.8zM932.6 451.9h1.8v1.8h-1.8zM930.2 454.4h1.8v1.8h-1.8zM937.7 425.6h1.8v1.8h-1.8zM876.2 441.2h1.8v1.8h-1.8zM962.5 455.5h1.8v1.8h-1.8zM886.4 444h1.8v1.8h-1.8zM925.3 439.3h1.8v1.8h-1.8zM894.3 430.5h1.8v1.8h-1.8zM946 456.1h1.8v1.8h-1.8zM889.1 438.7h1.8v1.8h-1.8zM985.2 457.8h1.8v1.8h-1.8zM901.4 424.2h1.8v1.8h-1.8zM1004.3 458.1h1.8v1.8h-1.8zM940.7 421.3h1.8v1.8h-1.8zM1001.9 434.6h1.8v1.8h-1.8zM998.9 443.9h1.8v1.8h-1.8zM987.9 425.5h1.8v1.8h-1.8zM982.6 428h1.8v1.8h-1.8zM929.9 453h1.8v1.8h-1.8zM988.6 426.4h1.8v1.8h-1.8zM904.2 435.1h1.8v1.8h-1.8zM945.6 434.5h1.8v1.8h-1.8zM891.1 429h1.8v1.8h-1.8zM974.2 455h1.8v1.8h-1.8zM879.8 441.6h1.8v1.8h-1.8zM978.7 420.7h1.8v1.8h-1.8zM989.8 423.8h1.8v1.8h-1.8zM956.9 441.1h1.8v1.8h-1.8zM960.7 431.4h1.8v1.8h-1.8zM932.1 442.4h1.8v1.8h-1.8zM932.9 445.5h1.8v1.8h-1.8zM935.8 436.7h1.8v1.8h-1.8zM877.4 443.9h1.8v1.8h-1.8zM941.7 428.5h1.8v1.8h-1.8zM979.5 450.3h1.8v1.8h-1.8zM937.4 426.3h1.8v1.8h-1.8zM939.4 423.4h1.8v1.8h-1.8zM891.9 436.3h1.8v1.8h-1.8zM886.8 436.8h1.8v1.8h-1.8zM944.5 420.8h1.8v1.8h-1.8zM962 422.4h1.8v1.8h-1.8zM975.3 450.2h1.8v1.8h-1.8zM944.7 421.3h1.8v1.8h-1.8zM943.7 434.2h1.8v1.8h-1.8zM1005.3 424.6h1.8v1.8h-1.8zM992.4 459h1.8v1.8h-1.8zM975.2 451.7h1.8v1.8h-1.8zM900.9 458.4h1.8v1.8h-1.8zM942 457.4h1.8v1.8h-1.8zM1000.5 425.7h1.8v1.8h-1.8zM982.9 456.3h1.8v1.8h-1.8zM883.2 433.2h1.8v1.8h-1.8zM978.5 425.5h1.8v1.8h-1.8zM997.8 430.1h1.8v1.8h-1.8zM986.7 424.9h1.8v1.8h-1.8zM943.4 455.9h1.8v1.8h-1.8zM902.9 429.6h1.8v1.8h-1.8zM944 431.9h1.8v1.8h-1.8zM879.2 426.4h1.8v1.8h-1.8zM896.4 456.6h1.8v1.8h-1.8zM967.9 454.9h1.8v1.8h-1.8zM897.4 450.5h1.8v1.8h-1.8zM890 440.4h1.8v1.8h-1.8zM961.9 433.5h1.8v1.8h-1.8zM994.6 441.3h1.8v1.8h-1.8zM954.2 454.4h1.8v1.8h-1.8zM888.6 458.8h1.8v1.8h-1.8zM961 434.9h1.8v1.8h-1.8zM984.2 429.7h1.8v1.8h-1.8zM1010.8 442.2h1.8v1.8h-1.8zM923.8 449.7h1.8v1.8h-1.8zM935.2 426.2h1.8v1.8h-1.8zM976.7 421.1h1.8v1.8h-1.8zM987.3 429.3h1.8v1.8h-1.8zM962.3 458.5h1.8v1.8h-1.8zM955 445.7h1.8v1.8h-1.8zM917.3 419.2h1.8v1.8h-1.8zM878.8 425.1h1.8v1.8h-1.8zM959.1 436.4h1.8v1.8h-1.8zM944.9 454.9h1.8v1.8h-1.8zM892.3 428.2h1.8v1.8h-1.8zM964.3 420h1.8v1.8h-1.8zM874.5 433.3h1.8v1.8h-1.8zM888.8 433.4h1.8v1.8h-1.8zM905.1 442.5h1.8v1.8h-1.8zM955.4 427.3h1.8v1.8h-1.8zM960.2 438.1h1.8v1.8h-1.8zM892.7 456.6h1.8v1.8h-1.8zM907.7 425.1h1.8v1.8h-1.8zM887.3 503.8h1.8v1.8h-1.8zM994.4 513.9h1.8v1.8h-1.8zM929.6 477.6h1.8v1.8h-1.8zM875.7 504.3h1.8v1.8h-1.8zM951.7 483.6h1.8v1.8h-1.8zM963.2 490.2h1.8v1.8h-1.8zM1003.5 510.5h1.8v1.8h-1.8zM908.4 522.4h1.8v1.8h-1.8zM880.2 496.3h1.8v1.8h-1.8zM930.2 475.8h1.8v1.8h-1.8zM882.2 513.6h1.8v1.8h-1.8zM875.8 497.7h1.8v1.8h-1.8zM1004 469.1h1.8v1.8h-1.8zM901.7 501.7h1.8v1.8h-1.8zM944.1 504h1.8v1.8h-1.8zM986.4 471.3h1.8v1.8h-1.8zM916.8 480.1h1.8v1.8h-1.8zM880.8 521.4h1.8v1.8h-1.8zM982.2 509.2h1.8v1.8h-1.8zM875 518.2h1.8v1.8h-1.8zM977 491.7h1.8v1.8h-1.8zM976.5 490.8h1.8v1.8h-1.8zM905.3 466.5h1.8v1.8h-1.8zM906.2 461.8h1.8v1.8h-1.8zM920.4 511.6h1.8v1.8h-1.8zM970.1 518.3h1.8v1.8h-1.8zM972.3 477.7h1.8v1.8h-1.8zM950.5 489.6h1.8v1.8h-1.8zM982.9 495.8h1.8v1.8h-1.8zM910.7 504.1h1.8v1.8h-1.8zM1007.3 474.3h1.8v1.8h-1.8zM995.6 460.2h1.8v1.8h-1.8zM910.1 475.7h1.8v1.8h-1.8zM976.8 525.3h1.8v1.8h-1.8zM977.1 482h1.8v1.8h-1.8zM995.6 482.1h1.8v1.8h-1.8zM907.1 522.7h1.8v1.8h-1.8zM961.2 507.6h1.8v1.8h-1.8zM965.9 527.7h1.8v1.8h-1.8zM938.9 517.9h1.8v1.8h-1.8zM970.4 519.2h1.8v1.8h-1.8zM934.5 509.8h1.8v1.8h-1.8zM952.8 480.7h1.8v1.8h-1.8zM903.4 502.7h1.8v1.8h-1.8zM884.9 522.9h1.8v1.8h-1.8zM894.1 461h1.8v1.8h-1.8zM888.8 524.2h1.8v1.8h-1.8zM921.7 469.1h1.8v1.8h-1.8zM878.1 462h1.8v1.8h-1.8zM969.7 503.5h1.8v1.8h-1.8zM970.3 510.7h1.8v1.8h-1.8zM883.2 500.5h1.8v1.8h-1.8zM924.3 516.4h1.8v1.8h-1.8zM987.2 521.5h1.8v1.8h-1.8zM883.2 519.9h1.8v1.8h-1.8zM1000.3 525.2h1.8v1.8h-1.8zM888.9 473.5h1.8v1.8h-1.8zM889.6 461.5h1.8v1.8h-1.8zM991.1 516h1.8v1.8h-1.8zM961.6 516.9h1.8v1.8h-1.8zM961.3 479.2h1.8v1.8h-1.8zM887.9 466h1.8v1.8h-1.8zM978.6 473.5h1.8v1.8h-1.8zM918.2 488.8h1.8v1.8h-1.8zM877 477.1h1.8v1.8h-1.8zM913.1 509.2h1.8v1.8h-1.8zM924.9 481.6h1.8v1.8h-1.8zM1007.2 494.4h1.8v1.8h-1.8zM991.6 502.4h1.8v1.8h-1.8zM878.4 488h1.8v1.8h-1.8zM934.4 513.2h1.8v1.8h-1.8zM922 508.5h1.8v1.8h-1.8zM948.4 474.3h1.8v1.8h-1.8zM993.1 465.5h1.8v1.8h-1.8zM987.3 471.1h1.8v1.8h-1.8zM874.3 473.3h1.8v1.8h-1.8zM979.3 527.6h1.8v1.8h-1.8zM874.7 493.5h1.8v1.8h-1.8zM941.9 514.9h1.8v1.8h-1.8zM899.6 493.7h1.8v1.8h-1.8zM922 517.4h1.8v1.8h-1.8zM910.1 525.2h1.8v1.8h-1.8zM913.3 474.2h1.8v1.8h-1.8zM970.7 494h1.8v1.8h-1.8zM889.3 503.7h1.8v1.8h-1.8zM885.3 514.3h1.8v1.8h-1.8zM970.3 514.2h1.8v1.8h-1.8zM960.8 484h1.8v1.8h-1.8zM929.5 486.7h1.8v1.8h-1.8zM997 465.2h1.8v1.8h-1.8zM996.7 460.9h1.8v1.8h-1.8zM902.6 477.5h1.8v1.8h-1.8zM998.5 494.2h1.8v1.8h-1.8zM926.5 521h1.8v1.8h-1.8zM906.4 491.4h1.8v1.8h-1.8zM947.5 511.9h1.8v1.8h-1.8zM978 504.4h1.8v1.8h-1.8zM922.2 482h1.8v1.8h-1.8zM895.6 518.1h1.8v1.8h-1.8zM965.5 511.1h1.8v1.8h-1.8zM897.5 489.8h1.8v1.8h-1.8zM980.9 499.7h1.8v1.8h-1.8zM891.5 491.5h1.8v1.8h-1.8zM996.3 475.8h1.8v1.8h-1.8zM900.6 480.2h1.8v1.8h-1.8zM971.2 518.2h1.8v1.8h-1.8zM895.5 470h1.8v1.8h-1.8zM908.3 482h1.8v1.8h-1.8zM946.2 470.4h1.8v1.8h-1.8zM919.4 472.4h1.8v1.8h-1.8zM1008.7 510.1h1.8v1.8h-1.8zM888.2 526.5h1.8v1.8h-1.8zM888.2 486h1.8v1.8h-1.8zM1009.9 514.8h1.8v1.8h-1.8zM975.3 489.6h1.8v1.8h-1.8zM901.2 503.8h1.8v1.8h-1.8zM888.9 473.6h1.8v1.8h-1.8zM927.7 461.5h1.8v1.8h-1.8zM929.2 514.5h1.8v1.8h-1.8zM969.8 494.2h1.8v1.8h-1.8zM961.4 491.6h1.8v1.8h-1.8zM893.7 501.4h1.8v1.8h-1.8zM930 511h1.8v1.8h-1.8zM999.4 489.2h1.8v1.8h-1.8zM953.3 511.6h1.8v1.8h-1.8zM932.2 475.1h1.8v1.8h-1.8zM973.8 520.7h1.8v1.8h-1.8zM980.9 508.1h1.8v1.8h-1.8zM991.8 506.7h1.8v1.8h-1.8zM962.7 490.9h1.8v1.8h-1.8zM917.3 503.1h1.8v1.8h-1.8zM887.6 488.5h1.8v1.8h-1.8zM982.1 509h1.8v1.8h-1.8zM961 476.6h1.8v1.8h-1.8zM932.6 491h1.8v1.8h-1.8zM959.9 487.8h1.8v1.8h-1.8zM967.3 524.2h1.8v1.8h-1.8zM899.4 504.9h1.8v1.8h-1.8zM981.5 486.3h1.8v1.8h-1.8zM941.7 527.3h1.8v1.8h-1.8zM879.4 497.2h1.8v1.8h-1.8zM896.3 513.9h1.8v1.8h-1.8zM1003.9 495.5h1.8v1.8h-1.8zM888.1 499.3h1.8v1.8h-1.8zM948.8 509.3h1.8v1.8h-1.8zM944.8 503.9h1.8v1.8h-1.8zM988.5 495.6h1.8v1.8h-1.8zM930.8 525.5h1.8v1.8h-1.8zM903.1 507h1.8v1.8h-1.8zM928.3 512.5h1.8v1.8h-1.8zM891 528h1.8v1.8h-1.8zM923.2 463.1h1.8v1.8h-1.8zM912 487.1h1.8v1.8h-1.8zM876 488.4h1.8v1.8h-1.8zM932.2 508h1.8v1.8h-1.8zM922.7 477.7h1.8v1.8h-1.8zM905.1 511h1.8v1.8h-1.8zM1003.8 496h1.8v1.8h-1.8zM904.3 515.2h1.8v1.8h-1.8zM928.2 474h1.8v1.8h-1.8zM892 513.5h1.8v1.8h-1.8zM985.8 503.5h1.8v1.8h-1.8zM938.9 498.5h1.8v1.8h-1.8zM905.3 526.6h1.8v1.8h-1.8zM922.9 503.8h1.8v1.8h-1.8zM987.1 516.3h1.8v1.8h-1.8zM938.7 479.7h1.8v1.8h-1.8zM949.8 467.9h1.8v1.8h-1.8zM989.2 484h1.8v1.8h-1.8zM991.5 477.8h1.8v1.8h-1.8zM926 476.9h1.8v1.8h-1.8zM932.9 472.1h1.8v1.8h-1.8zM874.5 509.7h1.8v1.8h-1.8zM912.9 476.3h1.8v1.8h-1.8zM915.8 492.7h1.8v1.8h-1.8zM933.3 503.7h1.8v1.8h-1.8zM965.1 484.5h1.8v1.8h-1.8zM1002.3 518.9h1.8v1.8h-1.8zM882 517.1h1.8v1.8h-1.8zM999.1 514h1.8v1.8h-1.8zM893.5 517.3h1.8v1.8h-1.8zM961.5 460.2h1.8v1.8h-1.8zM875.7 525.7h1.8v1.8h-1.8zM964.6 476.6h1.8v1.8h-1.8zM888.1 469.1h1.8v1.8h-1.8zM906.4 513.5h1.8v1.8h-1.8zM921.9 469.8h1.8v1.8h-1.8zM998.9 514.5h1.8v1.8h-1.8zM897.3 521.5h1.8v1.8h-1.8zM958.1 513.8h1.8v1.8h-1.8zM966.4 521.7h1.8v1.8h-1.8zM982.9 517.8h1.8v1.8h-1.8zM901.4 507.6h1.8v1.8h-1.8zM947.4 511.1h1.8v1.8h-1.8zM934.6 520.9h1.8v1.8h-1.8zM950.7 477.6h1.8v1.8h-1.8zM906.4 468.9h1.8v1.8h-1.8zM942.2 463.2h1.8v1.8h-1.8zM938.6 469.2h1.8v1.8h-1.8zM941.9 494h1.8v1.8h-1.8zM948.6 519.5h1.8v1.8h-1.8zM875 518h1.8v1.8h-1.8zM938.7 498.5h1.8v1.8h-1.8zM965.9 518h1.8v1.8h-1.8zM925.9 488.4h1.8v1.8h-1.8zM1006.7 464.4h1.8v1.8h-1.8zM962 503.7h1.8v1.8h-1.8zM878.1 501.8h1.8v1.8h-1.8zM968.3 524.3h1.8v1.8h-1.8zM919.7 527.8h1.8v1.8h-1.8zM944.6 493.1h1.8v1.8h-1.8zM998 461.5h1.8v1.8h-1.8zM973.2 502.9h1.8v1.8h-1.8zM920.9 519.4h1.8v1.8h-1.8zM924.7 492.3h1.8v1.8h-1.8zM946.6 513.1h1.8v1.8h-1.8zM903.2 489.6h1.8v1.8h-1.8zM932.4 497.9h1.8v1.8h-1.8zM988.2 479.6h1.8v1.8h-1.8zM988.4 487.4h1.8v1.8h-1.8zM943.6 478.1h1.8v1.8h-1.8zM944 527.4h1.8v1.8h-1.8zM964.5 514.6h1.8v1.8h-1.8zM919.8 481.3h1.8v1.8h-1.8zM915.4 500.2h1.8v1.8h-1.8zM961.7 514h1.8v1.8h-1.8zM879.7 509.7h1.8v1.8h-1.8zM996.3 497.3h1.8v1.8h-1.8zM881 480.2h1.8v1.8h-1.8zM875 472.4h1.8v1.8h-1.8zM1001.3 501.7h1.8v1.8h-1.8zM964.9 514.4h1.8v1.8h-1.8zM999.7 501.9h1.8v1.8h-1.8zM959.2 503h1.8v1.8h-1.8zM970.2 500.9h1.8v1.8h-1.8zM968.1 474h1.8v1.8h-1.8zM966.2 491.2h1.8v1.8h-1.8zM979.4 466.2h1.8v1.8h-1.8zM899.1 461.7h1.8v1.8h-1.8zM981 523.1h1.8v1.8h-1.8zM964.6 484.9h1.8v1.8h-1.8zM987.6 514.2h1.8v1.8h-1.8zM951.7 477.2h1.8v1.8h-1.8zM915.8 488.6h1.8v1.8h-1.8zM918.1 489.3h1.8v1.8h-1.8zM962.7 524.5h1.8v1.8h-1.8zM881.7 498.9h1.8v1.8h-1.8zM879.6 467.4h1.8v1.8h-1.8zM986 499.4h1.8v1.8h-1.8zM1000.9 490.4h1.8v1.8h-1.8zM876.1 486.2h1.8v1.8h-1.8zM955.8 524.8h1.8v1.8h-1.8zM1009.5 492.4h1.8v1.8h-1.8zM931 466.3h1.8v1.8h-1.8zM963.1 474h1.8v1.8h-1.8zM895.1 460.2h1.8v1.8h-1.8zM874.8 507h1.8v1.8h-1.8zM890.9 526.8h1.8v1.8h-1.8zM886.3 520h1.8v1.8h-1.8zM891.9 460.4h1.8v1.8h-1.8zM973.4 476.1h1.8v1.8h-1.8zM975.4 472.2h1.8v1.8h-1.8zM881 513.3h1.8v1.8h-1.8zM972.6 519h1.8v1.8h-1.8zM974.8 465h1.8v1.8h-1.8zM960.9 508.8h1.8v1.8h-1.8zM937.7 524.4h1.8v1.8h-1.8zM909.2 526.6h1.8v1.8h-1.8zM973.1 459.9h1.8v1.8h-1.8zM876.2 504.7h1.8v1.8h-1.8zM986.9 464.7h1.8v1.8h-1.8zM917.1 510.2h1.8v1.8h-1.8zM897 519.4h1.8v1.8h-1.8zM941.2 463.3h1.8v1.8h-1.8zM924.8 499.4h1.8v1.8h-1.8zM934.7 506.5h1.8v1.8h-1.8zM894.1 514.9h1.8v1.8h-1.8zM924.3 504.3h1.8v1.8h-1.8zM961 488.4h1.8v1.8h-1.8zM927.4 514.2h1.8v1.8h-1.8zM1004.5 514h1.8v1.8h-1.8zM952.3 479.6h1.8v1.8h-1.8zM882.5 527.3h1.8v1.8h-1.8zM971.2 517h1.8v1.8h-1.8zM919.9 501.5h1.8v1.8h-1.8zM1009 517.3h1.8v1.8h-1.8zM957.1 480.7h1.8v1.8h-1.8zM933.3 521.3h1.8v1.8h-1.8zM926.1 507.1h1.8v1.8h-1.8zM957.2 521.9h1.8v1.8h-1.8zM985.6 479h1.8v1.8h-1.8zM874.4 477.5h1.8v1.8h-1.8zM932.4 500.2h1.8v1.8h-1.8zM986.7 521.2h1.8v1.8h-1.8zM880 517.5h1.8v1.8h-1.8zM986.1 519.8h1.8v1.8h-1.8zM953 478.3h1.8v1.8h-1.8zM991.6 515.6h1.8v1.8h-1.8zM968.6 523.1h1.8v1.8h-1.8zM922 465.1h1.8v1.8h-1.8zM950.5 514.9h1.8v1.8h-1.8zM901.8 511.6h1.8v1.8h-1.8zM1002.7 475.5h1.8v1.8h-1.8zM957.9 506.6h1.8v1.8h-1.8zM938.3 473.6h1.8v1.8h-1.8zM909.3 511.7h1.8v1.8h-1.8zM983.4 491.3h1.8v1.8h-1.8zM886.2 515.6h1.8v1.8h-1.8zM980.7 475.4h1.8v1.8h-1.8zM954.1 521.9h1.8v1.8h-1.8zM996.3 495.7h1.8v1.8h-1.8zM939.9 500.4h1.8v1.8h-1.8zM900.2 472.6h1.8v1.8h-1.8zM899.1 508.2h1.8v1.8h-1.8zM924.2 498.6h1.8v1.8h-1.8zM929.7 495.3h1.8v1.8h-1.8zM894.7 462.2h1.8v1.8h-1.8zM1011.7 485.3h1.8v1.8h-1.8zM888.8 503.4h1.8v1.8h-1.8zM982.8 470.1h1.8v1.8h-1.8zM956.5 483.3h1.8v1.8h-1.8zM945.8 460.6h1.8v1.8h-1.8zM878.8 528.5h1.8v1.8h-1.8zM993.6 493.2h1.8v1.8h-1.8zM952.4 477.4h1.8v1.8h-1.8zM981.7 488.9h1.8v1.8h-1.8zM1004.7 512.8h1.8v1.8h-1.8zM987.1 526.6h1.8v1.8h-1.8zM909.2 461.8h1.8v1.8h-1.8zM901.9 471.8h1.8v1.8h-1.8zM885.7 462.7h1.8v1.8h-1.8zM951 520.1h1.8v1.8h-1.8zM937.4 525.4h1.8v1.8h-1.8zM999.7 463.6h1.8v1.8h-1.8zM956.7 486.9h1.8v1.8h-1.8zM890.7 526.3h1.8v1.8h-1.8zM909.6 498.6h1.8v1.8h-1.8zM962.5 526.1h1.8v1.8h-1.8zM966.5 486.6h1.8v1.8h-1.8zM936 470.3h1.8v1.8h-1.8zM1007.4 528.5h1.8v1.8h-1.8zM904.7 461.8h1.8v1.8h-1.8zM909.4 483.8h1.8v1.8h-1.8zM998.7 522.4h1.8v1.8h-1.8zM989.7 462.4h1.8v1.8h-1.8zM982.6 508.8h1.8v1.8h-1.8zM963.4 528.1h1.8v1.8h-1.8zM881.8 469.3h1.8v1.8h-1.8zM978.3 524.9h1.8v1.8h-1.8zM967.5 480h1.8v1.8h-1.8zM955.7 512.2h1.8v1.8h-1.8zM888.7 481.8h1.8v1.8h-1.8zM909.6 467.8h1.8v1.8h-1.8zM940.5 470.9h1.8v1.8h-1.8zM907 469.1h1.8v1.8h-1.8zM967.6 460h1.8v1.8h-1.8zM973.1 472.8h1.8v1.8h-1.8zM879.1 524.1h1.8v1.8h-1.8zM904.6 524.5h1.8v1.8h-1.8zM993.7 521.3h1.8v1.8h-1.8zM893.4 490.4h1.8v1.8h-1.8zM887.5 524.1h1.8v1.8h-1.8zM990.4 503.1h1.8v1.8h-1.8zM936.5 482.9h1.8v1.8h-1.8zM987.7 492.6h1.8v1.8h-1.8zM960.8 469.1h1.8v1.8h-1.8zM904.7 463.1h1.8v1.8h-1.8zM972.6 497.9h1.8v1.8h-1.8zM894.1 520.1h1.8v1.8h-1.8zM910.9 487.9h1.8v1.8h-1.8zM895.6 478.1h1.8v1.8h-1.8zM990 482.5h1.8v1.8h-1.8zM897.3 493.5h1.8v1.8h-1.8zM918 522.3h1.8v1.8h-1.8zM889.9 527.6h1.8v1.8h-1.8zM882 521.8h1.8v1.8h-1.8zM966.3 473.9h1.8v1.8h-1.8zM940 479.2h1.8v1.8h-1.8zM909.7 473.2h1.8v1.8h-1.8zM924.4 528.5h1.8v1.8h-1.8zM1011.9 523.9h1.8v1.8h-1.8zM887.6 479.4h1.8v1.8h-1.8zM997.8 463.1h1.8v1.8h-1.8zM974.4 479.7h1.8v1.8h-1.8zM1009.2 460.2h1.8v1.8h-1.8zM985.5 483h1.8v1.8h-1.8zM893.5 459.3h1.8v1.8h-1.8zM989 496h1.8v1.8h-1.8zM899.8 489.6h1.8v1.8h-1.8zM1000 474.4h1.8v1.8h-1.8zM953 468.8h1.8v1.8h-1.8zM899 513.1h1.8v1.8h-1.8zM972.3 472.9h1.8v1.8h-1.8zM885.1 465.2h1.8v1.8h-1.8zM958.1 493.8h1.8v1.8h-1.8zM911.9 473.5h1.8v1.8h-1.8zM958.6 508.7h1.8v1.8h-1.8zM986.1 499.9h1.8v1.8h-1.8zM902 463.7h1.8v1.8h-1.8zM975.2 487.7h1.8v1.8h-1.8zM973.7 463h1.8v1.8h-1.8zM986 482.6h1.8v1.8h-1.8zM990.3 519.6h1.8v1.8h-1.8zM942.2 460.2h1.8v1.8h-1.8zM999.7 492.5h1.8v1.8h-1.8zM994.5 477.8h1.8v1.8h-1.8zM899.8 517.3h1.8v1.8h-1.8zM924.8 470.6h1.8v1.8h-1.8zM925.3 500.8h1.8v1.8h-1.8zM874.8 495.5h1.8v1.8h-1.8zM935.6 495.2h1.8v1.8h-1.8zM890.8 509.1h1.8v1.8h-1.8zM986.8 519.7h1.8v1.8h-1.8zM918.4 508.9h1.8v1.8h-1.8zM926.8 511.7h1.8v1.8h-1.8zM882.6 520.2h1.8v1.8h-1.8zM1005.8 493.8h1.8v1.8h-1.8zM945 496.3h1.8v1.8h-1.8zM948.3 460.6h1.8v1.8h-1.8zM1007.6 474.8h1.8v1.8h-1.8zM899.3 466.3h1.8v1.8h-1.8zM908.7 516.3h1.8v1.8h-1.8zM878.3 465.9h1.8v1.8h-1.8zM970.6 472.8h1.8v1.8h-1.8zM876.6 501.1h1.8v1.8h-1.8zM953.7 495.7h1.8v1.8h-1.8zM971.1 466.3h1.8v1.8h-1.8zM994.1 509.3h1.8v1.8h-1.8zM880.4 467.7h1.8v1.8h-1.8zM942.2 494.2h1.8v1.8h-1.8zM912.7 467.7h1.8v1.8h-1.8zM930.1 468.7h1.8v1.8h-1.8zM955.8 519.4h1.8v1.8h-1.8zM894.4 499.2h1.8v1.8h-1.8zM977.2 470.6h1.8v1.8h-1.8zM988.1 524.8h1.8v1.8h-1.8zM927.8 488.6h1.8v1.8h-1.8zM990 495.9h1.8v1.8h-1.8zM928.7 525h1.8v1.8h-1.8zM981.3 482.8h1.8v1.8h-1.8zM907.3 482.6h1.8v1.8h-1.8zM934.2 527.8h1.8v1.8h-1.8zM985.1 523h1.8v1.8h-1.8zM986.6 518.5h1.8v1.8h-1.8zM881.5 495.3h1.8v1.8h-1.8zM1006.3 524.5h1.8v1.8h-1.8zM908.5 488.7h1.8v1.8h-1.8zM961.4 484.6h1.8v1.8h-1.8zM947.4 464h1.8v1.8h-1.8zM933.9 494.5h1.8v1.8h-1.8zM877 468.9h1.8v1.8h-1.8zM1007.9 513.5h1.8v1.8h-1.8zM1003.4 503.4h1.8v1.8h-1.8zM985.8 521h1.8v1.8h-1.8zM996.2 461.5h1.8v1.8h-1.8zM962.7 477.7h1.8v1.8h-1.8zM967.7 478.3h1.8v1.8h-1.8zM949 523.8h1.8v1.8h-1.8zM959.9 476.7h1.8v1.8h-1.8zM945.9 489.5h1.8v1.8h-1.8zM1005.3 479.3h1.8v1.8h-1.8zM916.3 504.5h1.8v1.8h-1.8zM890.7 500.7h1.8v1.8h-1.8zM1006.1 495.1h1.8v1.8h-1.8zM911.2 491.8h1.8v1.8h-1.8zM947.8 469.5h1.8v1.8h-1.8zM891.2 468.3h1.8v1.8h-1.8zM914.6 487.6h1.8v1.8h-1.8zM913.9 476.2h1.8v1.8h-1.8zM886.2 497.4h1.8v1.8h-1.8zM990 547.4h1.8v1.8h-1.8zM952.8 548.6h1.8v1.8h-1.8zM901.9 550.4h1.8v1.8h-1.8zM937.7 545.6h1.8v1.8h-1.8zM958.7 543.2h1.8v1.8h-1.8zM917 536.4h1.8v1.8h-1.8zM904.7 544.5h1.8v1.8h-1.8zM927 546.7h1.8v1.8h-1.8zM875.8 539.7h1.8v1.8h-1.8zM993.1 536.3h1.8v1.8h-1.8zM950.9 543.9h1.8v1.8h-1.8zM913.4 558.8h1.8v1.8h-1.8zM914.9 552.3h1.8v1.8h-1.8zM896 531.1h1.8v1.8h-1.8zM994.4 542.3h1.8v1.8h-1.8zM882.7 540.8h1.8v1.8h-1.8zM934.8 551.2h1.8v1.8h-1.8zM889.2 535.9h1.8v1.8h-1.8zM1006.5 551.3h1.8v1.8h-1.8zM895.4 539.2h1.8v1.8h-1.8zM922.8 549.4h1.8v1.8h-1.8zM959.2 554.6h1.8v1.8h-1.8zM987.4 544.7h1.8v1.8h-1.8zM976.1 551.4h1.8v1.8h-1.8zM979 543.4h1.8v1.8h-1.8zM982.4 550.4h1.8v1.8h-1.8zM1000.4 532.9h1.8v1.8h-1.8zM994.3 529.3h1.8v1.8h-1.8zM979.8 546.7h1.8v1.8h-1.8zM942.8 558h1.8v1.8h-1.8zM953.1 541.7h1.8v1.8h-1.8zM982.3 555.3h1.8v1.8h-1.8zM957.9 540.5h1.8v1.8h-1.8zM936.5 542.9h1.8v1.8h-1.8zM973.9 537.9h1.8v1.8h-1.8zM928 545.8h1.8v1.8h-1.8zM927.2 538.8h1.8v1.8h-1.8zM982.7 554.6h1.8v1.8h-1.8zM943.1 542.4h1.8v1.8h-1.8zM899.5 538.2h1.8v1.8h-1.8zM894.1 546.4h1.8v1.8h-1.8zM954.4 531.8h1.8v1.8h-1.8zM1001.1 538.8h1.8v1.8h-1.8zM990.5 554.3h1.8v1.8h-1.8zM1006.4 535.3h1.8v1.8h-1.8zM933 556.4h1.8v1.8h-1.8zM875.6 530.5h1.8v1.8h-1.8zM952.1 544h1.8v1.8h-1.8zM1001.1 552.3h1.8v1.8h-1.8zM948.4 559.1h1.8v1.8h-1.8zM945.5 544.6h1.8v1.8h-1.8zM968.7 540.8h1.8v1.8h-1.8zM923.5 547h1.8v1.8h-1.8zM922.6 557.6h1.8v1.8h-1.8zM967.5 544.9h1.8v1.8h-1.8zM887.8 540.4h1.8v1.8h-1.8zM929.4 546h1.8v1.8h-1.8zM953.3 555.5h1.8v1.8h-1.8zM1007.2 543.7h1.8v1.8h-1.8zM934.9 547.9h1.8v1.8h-1.8zM1011.6 539.4h1.8v1.8h-1.8zM947.3 553.6h1.8v1.8h-1.8zM897.7 538.7h1.8v1.8h-1.8zM1009.1 553.9h1.8v1.8h-1.8zM944.9 532.4h1.8v1.8h-1.8zM997.6 549.8h1.8v1.8h-1.8zM987.4 558.8h1.8v1.8h-1.8zM996.7 541.8h1.8v1.8h-1.8zM895.7 537.8h1.8v1.8h-1.8zM944.7 544.3h1.8v1.8h-1.8zM900.1 534.6h1.8v1.8h-1.8zM961.1 547.2h1.8v1.8h-1.8zM922.9 558.9h1.8v1.8h-1.8zM962 530.4h1.8v1.8h-1.8zM930.9 552.8h1.8v1.8h-1.8zM916.5 549.8h1.8v1.8h-1.8zM874.7 538.3h1.8v1.8h-1.8zM990.3 546.7h1.8v1.8h-1.8zM966.3 535h1.8v1.8h-1.8zM942.8 545.7h1.8v1.8h-1.8zM910.8 548.5h1.8v1.8h-1.8zM947.5 559h1.8v1.8h-1.8zM953.4 541.5h1.8v1.8h-1.8zM890.9 533.8h1.8v1.8h-1.8zM978.9 532.3h1.8v1.8h-1.8zM887.9 534.2h1.8v1.8h-1.8zM946.2 553.8h1.8v1.8h-1.8zM958.7 553.3h1.8v1.8h-1.8zM882.7 529.5h1.8v1.8h-1.8zM980.5 538.8h1.8v1.8h-1.8zM972.9 539.7h1.8v1.8h-1.8zM897.5 537.1h1.8v1.8h-1.8zM887.8 556.2h1.8v1.8h-1.8zM954.5 539.6h1.8v1.8h-1.8zM936.2 540.7h1.8v1.8h-1.8zM881.7 555.8h1.8v1.8h-1.8zM954.5 557.9h1.8v1.8h-1.8zM934.8 547.7h1.8v1.8h-1.8zM908.5 530.4h1.8v1.8h-1.8zM1002.6 554.8h1.8v1.8h-1.8zM917.6 556.1h1.8v1.8h-1.8zM986.7 538.2h1.8v1.8h-1.8zM957.3 557.9h1.8v1.8h-1.8zM942.5 557.6h1.8v1.8h-1.8zM907.6 540.8h1.8v1.8h-1.8zM973.3 535.8h1.8v1.8h-1.8zM916.8 555.4h1.8v1.8h-1.8zM941 552.9h1.8v1.8h-1.8zM907.7 534.3h1.8v1.8h-1.8zM923.6 534.7h1.8v1.8h-1.8zM1008.2 537.8h1.8v1.8h-1.8zM951.6 532.6h1.8v1.8h-1.8zM947.8 540.7h1.8v1.8h-1.8zM929.8 531.1h1.8v1.8h-1.8zM891.1 553.9h1.8v1.8h-1.8zM922.6 536.5h1.8v1.8h-1.8zM900.5 537.6h1.8v1.8h-1.8zM906.9 530.2h1.8v1.8h-1.8zM965.8 539.4h1.8v1.8h-1.8zM895.6 550.3h1.8v1.8h-1.8zM886.9 537.2h1.8v1.8h-1.8zM989.4 533h1.8v1.8h-1.8zM935.3 554.2h1.8v1.8h-1.8zM985.2 533.9h1.8v1.8h-1.8zM922.8 550.8h1.8v1.8h-1.8zM926.1 557.9h1.8v1.8h-1.8zM902.8 557.7h1.8v1.8h-1.8zM943.8 535.9h1.8v1.8h-1.8zM936.6 533.1h1.8v1.8h-1.8zM971.6 536.9h1.8v1.8h-1.8zM998.3 546.8h1.8v1.8h-1.8zM924.9 536.5h1.8v1.8h-1.8zM958.1 535.5h1.8v1.8h-1.8zM994.5 532.8h1.8v1.8h-1.8zM944.9 545.4h1.8v1.8h-1.8zM911.4 552.3h1.8v1.8h-1.8zM927.2 548.9h1.8v1.8h-1.8zM952.5 538.4h1.8v1.8h-1.8zM927.9 531.7h1.8v1.8h-1.8zM898.6 554.7h1.8v1.8h-1.8zM918.4 549h1.8v1.8h-1.8zM889.2 546h1.8v1.8h-1.8zM924 544.1h1.8v1.8h-1.8zM915.1 531.1h1.8v1.8h-1.8zM917.1 535.9h1.8v1.8h-1.8zM891.5 550.6h1.8v1.8h-1.8zM913.1 541.2h1.8v1.8h-1.8zM999.6 552.4h1.8v1.8h-1.8zM995.9 555h1.8v1.8h-1.8zM892.4 537.4h1.8v1.8h-1.8zM878.2 549.5h1.8v1.8h-1.8zM965.7 539.7h1.8v1.8h-1.8zM931.1 548.9h1.8v1.8h-1.8zM970.6 536.6h1.8v1.8h-1.8zM991 539.7h1.8v1.8h-1.8zM960.9 534.6h1.8v1.8h-1.8zM890 556.5h1.8v1.8h-1.8zM975.4 550.5h1.8v1.8h-1.8zM879.7 530.3h1.8v1.8h-1.8zM896.5 535.1h1.8v1.8h-1.8zM915.9 540.5h1.8v1.8h-1.8zM879.5 538.5h1.8v1.8h-1.8zM962.2 534.5h1.8v1.8h-1.8zM990 546.2h1.8v1.8h-1.8zM973 536.8h1.8v1.8h-1.8zM934.1 549.7h1.8v1.8h-1.8zM922.3 529.2h1.8v1.8h-1.8zM989.3 552.4h1.8v1.8h-1.8zM913.6 530.4h1.8v1.8h-1.8zM992 547.3h1.8v1.8h-1.8zM880.7 536.5h1.8v1.8h-1.8zM889.5 552.9h1.8v1.8h-1.8zM903.1 556.6h1.8v1.8h-1.8zM977.6 531.7h1.8v1.8h-1.8zM970 540.9h1.8v1.8h-1.8zM977.3 554h1.8v1.8h-1.8zM912.9 531.8h1.8v1.8h-1.8zM1004.7 541.8h1.8v1.8h-1.8zM1002.5 549.9h1.8v1.8h-1.8zM976.1 554h1.8v1.8h-1.8zM960.8 542.7h1.8v1.8h-1.8zM881.6 550.1h1.8v1.8h-1.8zM933.2 544.5h1.8v1.8h-1.8zM1002.2 533h1.8v1.8h-1.8zM979.3 530.4h1.8v1.8h-1.8zM971.1 553.3h1.8v1.8h-1.8zM910.2 545.5h1.8v1.8h-1.8zM1007.9 548.3h1.8v1.8h-1.8zM949.2 536.6h1.8v1.8h-1.8zM882.3 539.9h1.8v1.8h-1.8zM930.9 535.2h1.8v1.8h-1.8zM917 533.2h1.8v1.8h-1.8zM971.7 549.2h1.8v1.8h-1.8zM907 536.4h1.8v1.8h-1.8zM945.2 542.5h1.8v1.8h-1.8zM1003.3 539.7h1.8v1.8h-1.8zM915.4 555.7h1.8v1.8h-1.8zM893.7 546h1.8v1.8h-1.8zM920.2 553.6h1.8v1.8h-1.8zM949.8 551.9h1.8v1.8h-1.8zM897.5 568.5h1.8v1.8h-1.8zM956.7 565.6h1.8v1.8h-1.8zM979.9 570.8h1.8v1.8h-1.8zM889.9 563.2h1.8v1.8h-1.8zM923.9 562h1.8v1.8h-1.8zM882.5 563.1h1.8v1.8h-1.8zM901.3 568.9h1.8v1.8h-1.8zM936 560.7h1.8v1.8h-1.8zM918.9 565.7h1.8v1.8h-1.8zM924.2 561.5h1.8v1.8h-1.8zM884 559.3h1.8v1.8h-1.8zM1011 569.6h1.8v1.8h-1.8zM885.7 569.2h1.8v1.8h-1.8zM1009.4 567h1.8v1.8h-1.8zM889.1 566h1.8v1.8h-1.8zM934.1 561.8h1.8v1.8h-1.8zM949.1 559.2h1.8v1.8h-1.8zM1001 568.1h1.8v1.8h-1.8zM960.8 572.2h1.8v1.8h-1.8zM964.2 562.6h1.8v1.8h-1.8zM908.1 561.1h1.8v1.8h-1.8zM877.9 570h1.8v1.8h-1.8zM990 563.3h1.8v1.8h-1.8zM899.8 568.1h1.8v1.8h-1.8zM990.8 572.1h1.8v1.8h-1.8zM897.4 570.1h1.8v1.8h-1.8zM988.7 569.5h1.8v1.8h-1.8zM919.2 561.7h1.8v1.8h-1.8zM988 563.6h1.8v1.8h-1.8zM925 566.8h1.8v1.8h-1.8zM925.1 570.8h1.8v1.8h-1.8zM907.2 559.7h1.8v1.8h-1.8zM952.4 567.9h1.8v1.8h-1.8zM987.2 569h1.8v1.8h-1.8zM999 572.4h1.8v1.8h-1.8zM942.3 566.1h1.8v1.8h-1.8zM895.9 563.3h1.8v1.8h-1.8zM954.3 560.2h1.8v1.8h-1.8zM969.1 561.4h1.8v1.8h-1.8zM935.3 572.7h1.8v1.8h-1.8zM886.5 559.7h1.8v1.8h-1.8zM934.8 561.8h1.8v1.8h-1.8zM973.9 559.2h1.8v1.8h-1.8zM990.2 571.1h1.8v1.8h-1.8zM982.7 565.1h1.8v1.8h-1.8zM913.2 568.4h1.8v1.8h-1.8zM945.1 565h1.8v1.8h-1.8zM920.9 565.3h1.8v1.8h-1.8zM966 570.7h1.8v1.8h-1.8zM998.9 561.4h1.8v1.8h-1.8zM914.9 565.3h1.8v1.8h-1.8zM951.9 564h1.8v1.8h-1.8zM901.1 560.3h1.8v1.8h-1.8zM918.8 565.6h1.8v1.8h-1.8zM1008.2 571.8h1.8v1.8h-1.8zM993.6 572.8h1.8v1.8h-1.8zM1006.9 567.8h1.8v1.8h-1.8zM986.1 560h1.8v1.8h-1.8zM967.5 567.7h1.8v1.8h-1.8zM915.1 567.1h1.8v1.8h-1.8zM1005.6 565.9h1.8v1.8h-1.8zM963.5 563.3h1.8v1.8h-1.8zM921.5 571.5h1.8v1.8h-1.8zM878 561.8h1.8v1.8h-1.8zM967.8 565.4h1.8v1.8h-1.8zM885.9 568.4h1.8v1.8h-1.8zM925.5 567.3h1.8v1.8h-1.8zM931.6 566.5h1.8v1.8h-1.8zM952.1 564.7h1.8v1.8h-1.8zM889.9 561.7h1.8v1.8h-1.8zM996.9 566.8h1.8v1.8h-1.8zM889.6 571.2h1.8v1.8h-1.8zM909.1 560.5h1.8v1.8h-1.8zM947.4 562.6h1.8v1.8h-1.8zM941.6 566.9h1.8v1.8h-1.8zM905.4 567.1h1.8v1.8h-1.8zM889.7 566.3h1.8v1.8h-1.8zM955.3 560.2h1.8v1.8h-1.8zM930.4 560.2h1.8v1.8h-1.8zM934.8 571.2h1.8v1.8h-1.8zM950.1 569.1h1.8v1.8h-1.8zM978.6 560.7h1.8v1.8h-1.8zM1010.8 569.2h1.8v1.8h-1.8zM888.2 570.7h1.8v1.8h-1.8zM928.2 561.5h1.8v1.8h-1.8zM1006.6 567h1.8v1.8h-1.8zM981.1 561h1.8v1.8h-1.8zM981.2 559.9h1.8v1.8h-1.8zM906.8 564.3h1.8v1.8h-1.8zM876.2 567.4h1.8v1.8h-1.8zM903.5 563.3h1.8v1.8h-1.8zM971.7 565.1h1.8v1.8h-1.8zM996.8 567.8h1.8v1.8h-1.8zM994.5 567h1.8v1.8h-1.8zM1000.7 571.3h1.8v1.8h-1.8zM897.3 569.6h1.8v1.8h-1.8zM921.2 569.8h1.8v1.8h-1.8zM968 570.7h1.8v1.8h-1.8zM891.1 564.3h1.8v1.8h-1.8zM975.9 572.4h1.8v1.8h-1.8zM973.7 559.7h1.8v1.8h-1.8zM957.4 560.5h1.8v1.8h-1.8zM949.9 570.4h1.8v1.8h-1.8zM889.7 572.1h1.8v1.8h-1.8zM967.3 562.7h1.8v1.8h-1.8zM900.8 565.4h1.8v1.8h-1.8zM989.8 567.3h1.8v1.8h-1.8zM889.8 559.4h1.8v1.8h-1.8zM889.4 570.3h1.8v1.8h-1.8zM899.7 566.9h1.8v1.8h-1.8zM914.1 568.7h1.8v1.8h-1.8zM926.7 561.1h1.8v1.8h-1.8zM994.9 566.7h1.8v1.8h-1.8zM969.3 570.4h1.8v1.8h-1.8zM1005.1 559.3h1.8v1.8h-1.8zM921.4 561.2h1.8v1.8h-1.8zM943.4 571.3h1.8v1.8h-1.8zM984.6 559.6h1.8v1.8h-1.8zM899.3 570.6h1.8v1.8h-1.8zM967.9 564.6h1.8v1.8h-1.8zM939.8 561.3h1.8v1.8h-1.8zM990.8 564.6h1.8v1.8h-1.8zM994.6 567.7h1.8v1.8h-1.8zM884.6 563.7h1.8v1.8h-1.8zM904 571.6h1.8v1.8h-1.8zM955.4 559.7h1.8v1.8h-1.8zM897.5 564.2h1.8v1.8h-1.8zM938.7 567.2h1.8v1.8h-1.8zM927.7 564.1h1.8v1.8h-1.8zM875 567.2h1.8v1.8h-1.8zM920.2 559.4h1.8v1.8h-1.8zM937.5 572.9h1.8v1.8h-1.8zM880.4 561.2h1.8v1.8h-1.8zM966.7 562.9h1.8v1.8h-1.8zM911.8 566.1h1.8v1.8h-1.8zM910.3 567.1h1.8v1.8h-1.8zM947 572.5h1.8v1.8h-1.8zM1011 559.6h1.8v1.8h-1.8zM951.5 569.9h1.8v1.8h-1.8zM994.5 570h1.8v1.8h-1.8zM961.5 568h1.8v1.8h-1.8zM924.2 563.1h1.8v1.8h-1.8zM983.9 571.3h1.8v1.8h-1.8zM1003.7 568.7h1.8v1.8h-1.8zM916.1 569.8h1.8v1.8h-1.8zM976.2 566.2h1.8v1.8h-1.8zM961.8 564h1.8v1.8h-1.8zM950.1 564.8h1.8v1.8h-1.8zM882.5 563.8h1.8v1.8h-1.8zM918.7 573h1.8v1.8h-1.8zM940.6 575.3h1.8v1.8h-1.8zM907.7 574.5h1.8v1.8h-1.8zM922.3 573.9h1.8v1.8h-1.8zM875.1 578.4h1.8v1.8h-1.8zM936.7 575.8h1.8v1.8h-1.8zM952.6 574.9h1.8v1.8h-1.8zM897.4 573.5h1.8v1.8h-1.8zM915.7 575h1.8v1.8h-1.8zM974.4 576.4h1.8v1.8h-1.8zM1003.5 575.2h1.8v1.8h-1.8zM1001.3 576.6h1.8v1.8h-1.8zM885.2 574.2h1.8v1.8h-1.8zM954.2 579h1.8v1.8h-1.8zM923.4 577.8h1.8v1.8h-1.8zM933.2 578.3h1.8v1.8h-1.8zM883.5 576h1.8v1.8h-1.8zM998.2 574.8h1.8v1.8h-1.8zM909.7 573.3h1.8v1.8h-1.8zM896.8 574.7h1.8v1.8h-1.8zM971.3 574.4h1.8v1.8h-1.8zM929.3 574.3h1.8v1.8h-1.8zM957.3 578.3h1.8v1.8h-1.8zM963.6 574.3h1.8v1.8h-1.8zM975.4 578.9h1.8v1.8h-1.8zM957.1 573.6h1.8v1.8h-1.8zM985.8 578.4h1.8v1.8h-1.8zM921.2 573.9h1.8v1.8h-1.8zM900.1 576.3h1.8v1.8h-1.8zM994.9 577h1.8v1.8h-1.8zM1001.5 574.4h1.8v1.8h-1.8zM919.2 577.6h1.8v1.8h-1.8zM963.7 575.6h1.8v1.8h-1.8zM967.8 575.2h1.8v1.8h-1.8zM882.1 575.6h1.8v1.8h-1.8zM880.4 576.9h1.8v1.8h-1.8zM920.3 576.1h1.8v1.8h-1.8zM956.6 574.7h1.8v1.8h-1.8zM938.1 573.2h1.8v1.8h-1.8zM1001.8 576.5h1.8v1.8h-1.8zM1010.4 573.5h1.8v1.8h-1.8zM958.9 577.5h1.8v1.8h-1.8zM919.5 573.7h1.8v1.8h-1.8zM895.7 574h1.8v1.8h-1.8zM980 573.7h1.8v1.8h-1.8zM986.5 575.7h1.8v1.8h-1.8zM948.5 576.7h1.8v1.8h-1.8zM950.7 577.1h1.8v1.8h-1.8zM957.1 575.1h1.8v1.8h-1.8zM976.4 574.7h1.8v1.8h-1.8zM972.3 577.7h1.8v1.8h-1.8zM981.2 575h1.8v1.8h-1.8zM980.7 579h1.8v1.8h-1.8zM936.7 574.8h1.8v1.8h-1.8zM946.3 578.8h1.8v1.8h-1.8zM892.3 573.2h1.8v1.8h-1.8zM939.8 577.1h1.8v1.8h-1.8zM981 575.3h1.8v1.8h-1.8zM1010.7 574.5h1.8v1.8h-1.8zM978.5 573.7h1.8v1.8h-1.8zM878 573.9h1.8v1.8h-1.8zM882.4 576.1h1.8v1.8h-1.8zM950.7 574.2h1.8v1.8h-1.8zM1003.8 575.3h1.8v1.8h-1.8zM894.7 574.2h1.8v1.8h-1.8zM975.9 578.7h1.8v1.8h-1.8zM896.5 573.3h1.8v1.8h-1.8zM981.5 574.6h1.8v1.8h-1.8zM1009.7 576.1h1.8v1.8h-1.8zM961.9 575.2h1.8v1.8h-1.8zM984.6 575.9h1.8v1.8h-1.8zM918.8 578.5h1.8v1.8h-1.8zM889 577.5h1.8v1.8h-1.8zM883.2 577h1.8v1.8h-1.8zM929.6 578.3h1.8v1.8h-1.8zM882.4 576.5h1.8v1.8h-1.8zM930.7 578.6h1.8v1.8h-1.8zM1004.5 576.9h1.8v1.8h-1.8zM905 574.6h1.8v1.8h-1.8zM910.3 575.7h1.8v1.8h-1.8zM906.1 574.3h1.8v1.8h-1.8zM978.9 577h1.8v1.8h-1.8zM915.3 579.1h1.8v1.8h-1.8zM904 576.5h1.8v1.8h-1.8zM895.8 578.3h1.8v1.8h-1.8zM994.1 574.7h1.8v1.8h-1.8zM977.8 578.1h1.8v1.8h-1.8zM913.1 575.1h1.8v1.8h-1.8zM941.1 578.5h1.8v1.8h-1.8zM896.4 577.2h1.8v1.8h-1.8zM956.6 575.8h1.8v1.8h-1.8zM954.1 578.4h1.8v1.8h-1.8zM903.1 578.4h1.8v1.8h-1.8zM923.9 577.8h1.8v1.8h-1.8zM993.3 574.2h1.8v1.8h-1.8zM993.4 579.1h1.8v1.8h-1.8zM915.2 573.3h1.8v1.8h-1.8zM889.5 579h1.8v1.8h-1.8zM875.4 578.6h1.8v1.8h-1.8zM894.9 577.5h1.8v1.8h-1.8zM887.6 574.1h1.8v1.8h-1.8zM968.3 573.7h1.8v1.8h-1.8zM921 578.6h1.8v1.8h-1.8zM973 578.4h1.8v1.8h-1.8zM1009.3 573.3h1.8v1.8h-1.8zM906.5 577.9h1.8v1.8h-1.8zM969.3 573.4h1.8v1.8h-1.8zM943.8 574.5h1.8v1.8h-1.8zM933.5 573.8h1.8v1.8h-1.8zM876.9 579.1h1.8v1.8h-1.8zM917.8 578.4h1.8v1.8h-1.8zM890.7 576h1.8v1.8h-1.8zM892.9 575.7h1.8v1.8h-1.8zM898.8 577.2h1.8v1.8h-1.8zM894.5 577.6h1.8v1.8h-1.8zM943.2 573.8h1.8v1.8h-1.8zM922.9 576.1h1.8v1.8h-1.8zM1000.9 575.2h1.8v1.8h-1.8zM903.8 578.9h1.8v1.8h-1.8zM996 577.5h1.8v1.8h-1.8zM911.8 574.2h1.8v1.8h-1.8zM910.6 573.5h1.8v1.8h-1.8zM880.1 576.2h1.8v1.8h-1.8zM930.4 576.5h1.8v1.8h-1.8zM924.2 573.2h1.8v1.8h-1.8zM969.1 577h1.8v1.8h-1.8zM949.2 576.4h1.8v1.8h-1.8zM969.4 579h1.8v1.8h-1.8zM994.7 577.4h1.8v1.8h-1.8zM929.2 575h1.8v1.8h-1.8zM932 579h1.8v1.8h-1.8zM927.5 575.4h1.8v1.8h-1.8zM930.7 574h1.8v1.8h-1.8zM1011.9 573.2h1.8v1.8h-1.8zM958 578.7h1.8v1.8h-1.8zM909.3 576.8h1.8v1.8h-1.8zM926.1 574.6h1.8v1.8h-1.8zM901.5 573.8h1.8v1.8h-1.8zM990.5 577.8h1.8v1.8h-1.8zM999.5 573.4h1.8v1.8h-1.8zM969.9 575.1h1.8v1.8h-1.8zM963.3 576.4h1.8v1.8h-1.8zM917.7 579h1.8v1.8h-1.8zM874.3 577.6h1.8v1.8h-1.8zM991.9 576.2h1.8v1.8h-1.8zM955.9 579.1h1.8v1.8h-1.8zM906.5 576.9h1.8v1.8h-1.8zM976.7 575.4h1.8v1.8h-1.8zM972.4 575.5h1.8v1.8h-1.8zM946.7 576.8h1.8v1.8h-1.8zM967.6 575.1h1.8v1.8h-1.8zM960.9 576.4h1.8v1.8h-1.8zM904.9 576.8h1.8v1.8h-1.8zM910.7 578.6h1.8v1.8h-1.8zM939.4 577.5h1.8v1.8h-1.8zM946.2 576h1.8v1.8h-1.8zM904.7 574h1.8v1.8h-1.8zM1002.1 576.3h1.8v1.8h-1.8zM946.4 576.3h1.8v1.8h-1.8zM986.4 574.6h1.8v1.8h-1.8zM897.9 578.1h1.8v1.8h-1.8zM937.6 577h1.8v1.8h-1.8zM988.3 578.5h1.8v1.8h-1.8zM993.9 573.4h1.8v1.8h-1.8zM926.7 578.1h1.8v1.8h-1.8zM987 573.9h1.8v1.8h-1.8zM895.4 574.6h1.8v1.8h-1.8zM888.3 575.3h1.8v1.8h-1.8zM985 576.3h1.8v1.8h-1.8zM936.6 573.7h1.8v1.8h-1.8zM928.7 579.1h1.8v1.8h-1.8zM970 575.8h1.8v1.8h-1.8zM940.1 577.9h1.8v1.8h-1.8zM978.8 574h1.8v1.8h-1.8zM968 575.3h1.8v1.8h-1.8zM946 574.6h1.8v1.8h-1.8zM925.3 575.2h1.8v1.8h-1.8zM926.7 573.2h1.8v1.8h-1.8zM901.8 576.5h1.8v1.8h-1.8zM882.1 574.2h1.8v1.8h-1.8zM973.2 574.8h1.8v1.8h-1.8zM918.8 574.6h1.8v1.8h-1.8zM989.2 573.7h1.8v1.8h-1.8zM961.9 578.3h1.8v1.8h-1.8zM902 575.7h1.8v1.8h-1.8zM983.5 576.8h1.8v1.8h-1.8zM925.4 573.4h1.8v1.8h-1.8zM935.2 575.3h1.8v1.8h-1.8zM972.5 574.9h1.8v1.8h-1.8zM930.4 577h1.8v1.8h-1.8zM986 575.2h1.8v1.8h-1.8zM927.3 576.6h1.8v1.8h-1.8zM1001.7 574.3h1.8v1.8h-1.8zM1008.2 577.4h1.8v1.8h-1.8zM925.5 577.1h1.8v1.8h-1.8zM919.6 573.5h1.8v1.8h-1.8zM978.5 575.4h1.8v1.8h-1.8zM946.7 576.1h1.8v1.8h-1.8zM998.5 577.7h1.8v1.8h-1.8zM877.7 576.7h1.8v1.8h-1.8zM938 575.9h1.8v1.8h-1.8zM990 575.6h1.8v1.8h-1.8zM939.5 578.5h1.8v1.8h-1.8zM934.8 576.1h1.8v1.8h-1.8zM944.8 578.1h1.8v1.8h-1.8zM966.6 577.6h1.8v1.8h-1.8zM929.6 573.4h1.8v1.8h-1.8zM967.9 576.4h1.8v1.8h-1.8zM980.3 577.7h1.8v1.8h-1.8zM890.4 574.4h1.8v1.8h-1.8zM884.8 578h1.8v1.8h-1.8zM888.2 573.7h1.8v1.8h-1.8zM978.1 576.5h1.8v1.8h-1.8zM881.7 577.2h1.8v1.8h-1.8zM972.3 576h1.8v1.8h-1.8zM881.7 577.3h1.8v1.8h-1.8zM931.8 576.6h1.8v1.8h-1.8zM1011.9 578h1.8v1.8h-1.8zM994.5 574h1.8v1.8h-1.8zM920.3 576.2h1.8v1.8h-1.8zM875 579.1h1.8v1.8h-1.8zM912 574.7h1.8v1.8h-1.8zM917.3 574.7h1.8v1.8h-1.8zM992.7 576.5h1.8v1.8h-1.8zM944.6 575.6h1.8v1.8h-1.8zM881.2 575h1.8v1.8h-1.8zM993.7 577.9h1.8v1.8h-1.8zM992.3 574.7h1.8v1.8h-1.8zM902 573.4h1.8v1.8h-1.8zM948.2 575.4h1.8v1.8h-1.8zM938.2 576.1h1.8v1.8h-1.8zM954.7 575.3h1.8v1.8h-1.8zM984.7 574.3h1.8v1.8h-1.8zM1001 576.5h1.8v1.8h-1.8zM881.2 575h1.8v1.8h-1.8zM947.7 575.6h1.8v1.8h-1.8zM952.1 575.1h1.8v1.8h-1.8zM911.9 577.9h1.8v1.8h-1.8zM914.4 577.4h1.8v1.8h-1.8zM984.9 576.7h1.8v1.8h-1.8zM936.9 578.7h1.8v1.8h-1.8zM935.5 578.4h1.8v1.8h-1.8zM882.1 575.7h1.8v1.8h-1.8zM962.3 573.4h1.8v1.8h-1.8zM993.2 573.6h1.8v1.8h-1.8zM956.4 574.2h1.8v1.8h-1.8zM1001.4 576.5h1.8v1.8h-1.8zM984.6 576.1h1.8v1.8h-1.8zM967.1 577.2h1.8v1.8h-1.8zM914.8 574.4h1.8v1.8h-1.8zM989.8 574h1.8v1.8h-1.8zM1000.8 574.4h1.8v1.8h-1.8zM888 573.7h1.8v1.8h-1.8zM982.4 578.8h1.8v1.8h-1.8zM931.4 577.1h1.8v1.8h-1.8zM909.7 578.6h1.8v1.8h-1.8zM968.8 574.1h1.8v1.8h-1.8zM881.9 577.3h1.8v1.8h-1.8zM879.9 578.1h1.8v1.8h-1.8zM914.6 574.5h1.8v1.8h-1.8zM954.4 575h1.8v1.8h-1.8zM951.5 574h1.8v1.8h-1.8zM1000 575.1h1.8v1.8h-1.8zM990.2 574h1.8v1.8h-1.8zM984.4 579h1.8v1.8h-1.8zM928.2 573.3h1.8v1.8h-1.8zM926.6 577h1.8v1.8h-1.8zM904.9 576.4h1.8v1.8h-1.8zM887 575.9h1.8v1.8h-1.8zM974.6 575.7h1.8v1.8h-1.8zM967.8 573.8h1.8v1.8h-1.8zM988.5 573.9h1.8v1.8h-1.8zM1001.5 579.1h1.8v1.8h-1.8zM1003.8 576.3h1.8v1.8h-1.8zM914.2 575.2h1.8v1.8h-1.8zM977.7 576.1h1.8v1.8h-1.8zM1002.4 573.7h1.8v1.8h-1.8zM941 578.3h1.8v1.8h-1.8zM956.6 576.4h1.8v1.8h-1.8zM886.3 574h1.8v1.8h-1.8zM911.5 578.5h1.8v1.8h-1.8zM990.8 574.5h1.8v1.8h-1.8zM1001.7 573.3h1.8v1.8h-1.8zM956.8 578.9h1.8v1.8h-1.8zM921.6 578.8h1.8v1.8h-1.8zM964.7 573.4h1.8v1.8h-1.8zM920.1 575.8h1.8v1.8h-1.8zM908.3 577.6h1.8v1.8h-1.8zM898.8 577.9h1.8v1.8h-1.8zM915.3 573.5h1.8v1.8h-1.8zM951.3 573.7h1.8v1.8h-1.8zM950.2 577.9h1.8v1.8h-1.8zM956.3 575.9h1.8v1.8h-1.8zM878.8 576.2h1.8v1.8h-1.8zM887.5 577h1.8v1.8h-1.8zM892.3 576.6h1.8v1.8h-1.8zM922.8 575.4h1.8v1.8h-1.8zM965.6 574.1h1.8v1.8h-1.8zM897.5 578.8h1.8v1.8h-1.8zM919.9 578.2h1.8v1.8h-1.8zM994.7 576h1.8v1.8h-1.8z" fill="#1a1a1a"/>
<!-- brackets -->
<path d="M721.9 330V322.4H937.7V330M795.3 382.3H937.9M728.3 406.3H778.1" stroke="#57718c" stroke-width="1.8" fill="none"/>
</svg>
<div class="a t lt" style="left:193px;top:27.5px;font-size:37.5px;transform:scaleX(0.88);transform-origin:0 0;">FGA</div>
<div class="a t bd" style="left:252px;">（</div>
<div class="a t bd" style="left:298px;letter-spacing:1.4px;">基因组改变分数</div>
<div class="a t bd" style="left:565.5px;">）</div>
<div class="a t bd" style="left:593px;letter-spacing:2px;">与抗</div>
<div class="a t lt" style="left:667.5px;top:27.5px;font-size:37.5px;transform:scaleX(0.95);transform-origin:0 0;">PD-(L)1</div>
<div class="a t bd" style="left:795px;">治疗的获益</div>

<div class="a p" style="top:114.5px;">近期报告显示<span style="position:relative;left:4px">：</span>WES分析测得的拷贝数改变负荷与抗CTLA-4在黑色素瘤患者的治疗获益呈负相关性（</div>
<div class="a p" style="top:137px;letter-spacing:0.2px;">Davoli, Science 2017; Roh, Sci Transl Med 2017）。既往未评估拷贝数改变负荷对使用靶向NGS数</div>
<div class="a p" style="top:159.5px;letter-spacing:0.18px;">据和/或接受抗PD-(L)1治疗的NSCLC的影响</div>

<div class="a h" style="left:297.6px;width:300px;top:211px;">FGA中度<span style="position:relative;left:5px">，</span><br>但与TMB显著正相关</div>
<div class="a h" style="left:655.3px;width:400px;top:211px;">尽管FGA与TMB正相关<span style="position:relative;left:5px">，</span><br>但其与免疫治疗获益呈负相关性</div>

<!-- scatter labels -->
<div class="a tick ts" style="left:235.5px;top:293px;">0.8</div>
<div class="a tick ts" style="left:235.5px;top:355px;">0.6</div>
<div class="a tick ts" style="left:235.5px;top:418px;">0.4</div>
<div class="a tick ts" style="left:235.5px;top:480px;">0.2</div>
<div class="a tick ts" style="left:235.5px;top:544px;">0.0</div>
<div class="a xt" style="left:250.6px;top:578px;">0</div>
<div class="a xt" style="left:328.5px;top:578px;">25</div>
<div class="a xt" style="left:408px;top:578px;">50</div>
<div class="a xt" style="left:487px;top:578px;">75</div>
<div class="a axt" style="left:376px;top:606px;">TMB/MB</div>
<div class="a axt" style="left:176.5px;top:418px;transform:rotate(-90deg);transform-origin:center;">FGA</div>
<div class="a" style="left:406px;top:309px;font-size:15.9px;line-height:28.7px;">Spearman rho 0.31<br>p&lt;0.0001</div>

<!-- violin labels -->
<div class="a tick" style="left:640px;top:291px;font-size:14.5px;line-height:25.05px;">1.0<br>0.9<br>0.8<br>0.7<br>0.6<br>0.5<br>0.4<br>0.3<br>0.2<br>0.1<br>0.0</div>
<div class="a axt" style="left:579.5px;top:431.5px;transform:rotate(-90deg);transform-origin:center;">FGA</div>
<div class="a axt" style="left:697px;top:590px;font-size:23.5px;">DCB</div>
<div class="a axt" style="left:772px;top:590px;font-size:23.5px;">NDB</div>
<div class="a" style="left:890.5px;top:583.5px;font-size:16px;font-weight:bold;letter-spacing:0.3px;">非IO NSCLCs</div>
<div class="a pv" style="left:775px;width:100px;top:302px;">P=0.74<br>5</div>
<div class="a pv" style="left:811px;width:100px;top:363px;">P=0.00<br>3</div>
<div class="a pv" style="left:701px;width:100px;top:387.5px;">P=0.14</div>

<!-- footer -->
<div class="a" style="right:170px;top:671px;font-size:22px;font-weight:bold;line-height:29px;letter-spacing:1px;text-align:right;">Matthew David Hellmann, et al.&nbsp; ASCO&nbsp; 2017</div>
<div class="a" style="right:170px;top:701.5px;font-size:22px;font-weight:bold;line-height:29px;letter-spacing:1px;text-align:right;">Abstract No. 9015</div>
<div class="a" style="left:1170.5px;top:679.5px;font-size:15.8px;color:#999;">48</div>
<svg width="1280" height="720" style="position:absolute;left:0;top:0">
<g fill="#fff" stroke="#9a9a9a" stroke-width="1">
<path d="M964 666.5 L961.5 673.5 L970.5 667.8 Z"/>
<ellipse cx="974.4" cy="653.5" rx="18.1" ry="14"/>
<path d="M964.6 666 L969.5 667.6" stroke="#fff" stroke-width="2"/>
<circle cx="967.5" cy="648.8" r="2"/><circle cx="981.9" cy="648.8" r="2"/>
<path d="M1000 676.5 L1004 681.5 L1002.5 673.5 Z"/>
<ellipse cx="991.5" cy="666" rx="16" ry="14.2"/>
<path d="M1000.6 675.8 L1003 673.6" stroke="#fff" stroke-width="2"/>
<circle cx="985.6" cy="661.3" r="1.9"/><circle cx="997.5" cy="661.3" r="1.9"/>
</g></svg>
<div class="a wm" style="left:1017px;top:643px;">肺癌多学科会诊</div>
</body></html>
